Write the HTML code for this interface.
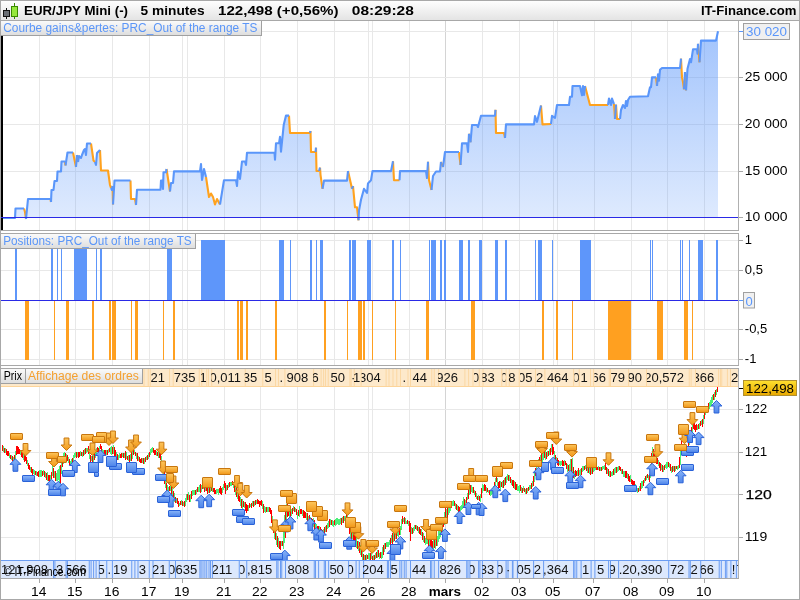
<!DOCTYPE html><html><head><meta charset="utf-8"><title>EUR/JPY Mini</title><style>
html,body{margin:0;padding:0;background:#fff;}
#root{position:relative;width:800px;height:600px;overflow:hidden;background:#fff;font-family:'Liberation Sans', Arial, sans-serif;}
svg{position:absolute;left:0;top:0;display:block;}
text{font-family:'Liberation Sans', Arial, sans-serif;}
</style></head><body><div id="root">
<svg width="800" height="600" viewBox="0 0 800 600">
<defs>
<linearGradient id="hdr" x1="0" y1="0" x2="0" y2="1"><stop offset="0" stop-color="#ffffff"/><stop offset="1" stop-color="#e4e4e4"/></linearGradient>
<linearGradient id="lbl" x1="0" y1="0" x2="0" y2="1"><stop offset="0" stop-color="#fafafa"/><stop offset="1" stop-color="#dedede"/></linearGradient>
<linearGradient id="eqfill" gradientUnits="userSpaceOnUse" x1="0" y1="31" x2="0" y2="217"><stop offset="0" stop-color="#5a96fa" stop-opacity="0.56"/><stop offset="1" stop-color="#5a96fa" stop-opacity="0.2"/></linearGradient>
<linearGradient id="og" x1="0" y1="0" x2="0" y2="1"><stop offset="0" stop-color="#fcc45a"/><stop offset="1" stop-color="#f29a1c"/></linearGradient>
<linearGradient id="bg" x1="0" y1="0" x2="0" y2="1"><stop offset="0" stop-color="#86b2f8"/><stop offset="1" stop-color="#4f86ea"/></linearGradient>
<linearGradient id="gold" x1="0" y1="0" x2="0" y2="1"><stop offset="0" stop-color="#ffe030"/><stop offset="1" stop-color="#e8a800"/></linearGradient>
<clipPath id="c1"><rect x="1" y="21" width="737" height="209"/></clipPath>
<clipPath id="c2"><rect x="1" y="234" width="737" height="131"/></clipPath>
<clipPath id="c3"><rect x="1" y="369" width="737" height="209"/></clipPath>
</defs>
<rect x="0" y="0" width="800" height="20" fill="url(#hdr)"/>
<rect x="0" y="20" width="800" height="1" fill="#a8a8a8"/>
<rect x="6" y="8" width="1" height="11" fill="#111"/><rect x="3.5" y="10.5" width="6" height="6" fill="#6a6e74" stroke="#111" stroke-width="1"/>
<rect x="14" y="3" width="1" height="16" fill="#3a8a00"/><rect x="11.5" y="6.5" width="6" height="10" fill="#96e83c" stroke="#3a8a00" stroke-width="1"/>
<text x="24" y="15" font-size="13.5" font-weight="bold" fill="#000" textLength="104" lengthAdjust="spacingAndGlyphs" text-anchor="start">EUR/JPY Mini (-)</text>
<text x="140.6" y="15" font-size="13.5" font-weight="bold" fill="#000" textLength="64" lengthAdjust="spacingAndGlyphs" text-anchor="start">5 minutes</text>
<text x="218" y="15" font-size="13.5" font-weight="bold" fill="#000" textLength="120.6" lengthAdjust="spacingAndGlyphs" text-anchor="start">122,498 (+0,56%)</text>
<text x="351.8" y="15" font-size="13.5" font-weight="bold" fill="#000" textLength="62" lengthAdjust="spacingAndGlyphs" text-anchor="start">08:29:28</text>
<text x="700.9" y="15" font-size="13.5" font-weight="bold" fill="#000" textLength="95.6" lengthAdjust="spacingAndGlyphs" text-anchor="start">IT-Finance.com</text>
<g clip-path="url(#c1)">
<rect x="39" y="21" width="1" height="209" fill="#e8e8e8"/>
<rect x="75" y="21" width="1" height="209" fill="#e8e8e8"/>
<rect x="112" y="21" width="1" height="209" fill="#e8e8e8"/>
<rect x="149" y="21" width="1" height="209" fill="#e8e8e8"/>
<rect x="182" y="21" width="1" height="209" fill="#e8e8e8"/>
<rect x="187" y="21" width="1" height="209" fill="#e8e8e8"/>
<rect x="224" y="21" width="1" height="209" fill="#e8e8e8"/>
<rect x="260" y="21" width="1" height="209" fill="#e8e8e8"/>
<rect x="297" y="21" width="1" height="209" fill="#e8e8e8"/>
<rect x="334" y="21" width="1" height="209" fill="#e8e8e8"/>
<rect x="368" y="21" width="1" height="209" fill="#e8e8e8"/>
<rect x="372" y="21" width="1" height="209" fill="#e8e8e8"/>
<rect x="409" y="21" width="1" height="209" fill="#e8e8e8"/>
<rect x="445" y="21" width="1" height="209" fill="#d4d4d4"/>
<rect x="482" y="21" width="1" height="209" fill="#e8e8e8"/>
<rect x="519" y="21" width="1" height="209" fill="#e8e8e8"/>
<rect x="553" y="21" width="1" height="209" fill="#e8e8e8"/>
<rect x="557" y="21" width="1" height="209" fill="#e8e8e8"/>
<rect x="594" y="21" width="1" height="209" fill="#e8e8e8"/>
<rect x="631" y="21" width="1" height="209" fill="#e8e8e8"/>
<rect x="667" y="21" width="1" height="209" fill="#e8e8e8"/>
<rect x="704" y="21" width="1" height="209" fill="#e8e8e8"/>
<rect x="1" y="31" width="737" height="1" fill="#e8e8e8"/>
<rect x="1" y="77" width="737" height="1" fill="#e8e8e8"/>
<rect x="1" y="124" width="737" height="1" fill="#e8e8e8"/>
<rect x="1" y="171" width="737" height="1" fill="#e8e8e8"/>
<polygon points="2,218 15,218 15.5,208.5 24,208.5 25,212 26,219 28,199 50.5,199 51,202 51.5,190 53.5,190 54.5,181 57,181 57.5,171.5 61,171.5 61.5,161.5 65,161.5 65.5,165.5 67.5,152.5 73,152.5 76,167 77,155 78,162 79,156 81,158 82,155 84,150 85,149 86,155 87,143.5 91,143.5 93.5,160.5 95,162 96,165 97,153 99,151 100,150 101,170.5 108,170.5 110,185 111,188 112,190 112.5,186 113,204.5 114.5,180.5 130.5,180.5 131,199 135,199 136,205 137,189.7 160.5,189.7 161,180.5 162,180.5 163,189 163.5,172.3 166,172.3 166.5,169 167,172 170,191.5 171,183 173,183 174,171.4 200,171.4 201,164 202,180 204,169 206,177 209,197 211,193.5 213,197 215,204.5 217,199 220,204.5 224,180.2 236,180.2 237,186 238,171.6 240,179 242,161.5 245,161.5 246,165 247,152.7 274.5,152.7 275,159.6 276,143.3 279,143.3 280,136.8 281,151.6 283.7,125 286,115.6 289,115.6 290,133 310,133 310.5,131 311,152 315.5,152 316,147.7 316.5,171 319,171 320,167.6 320.5,174.8 322.5,188.8 324,180.6 347,180.6 348,171 352,188.8 353,186 355,207.3 357,207.3 358.5,220.3 359,210.5 361,199.7 364,188.8 367,193 368,183.4 371,180.2 372.5,171.1 391,171.1 393,161.3 394,180.2 399.5,180.2 400,171.1 426,171.1 427,178 428,161.8 429,180 431.5,190 433,176 436,171.5 440,171.5 441,161.8 443,167 445,152 459,152 460.5,165 462,143.4 467,143.4 468,152 469,133.7 470.5,142.3 472,125 477,125 478,127 481,115.7 495,115.7 495.5,109.8 496,133 504,133 505,138 506,124.4 534,124.4 535,116 537,121.8 541,105.5 542.5,124.4 551,124 552,115.8 555,118 557,105 569,105 570,96.8 572,96.8 572.5,86 580,86 582,95.3 583,86 584,95 585,86 590,105 608,105 609,98.5 611,105 612,98.5 614,104 615,119 616,104.6 617,119 620,119 621,110 623,105 625,108 626,101 627,106 628,100 630,96.8 648,96.3 650,87.2 651,87.2 652,77.4 656,77.4 657,86 658,74.2 659,80.7 660,69.8 662,68 680,68 681,58.6 682,77.4 683,82 684,89.3 685,72 686,90.4 687.5,68.75 690,59 691,62.3 693,49.3 697,49.3 697.5,53.6 698,43.8 699.5,62.3 701,40.6 716,40.6 717,36 718,31.3 718,217 2,217" fill="url(#eqfill)"/>
<polyline points="24,208.5 25,212 26,219" fill="none" stroke="#ffa21e" stroke-width="2.1" stroke-linejoin="round" stroke-linecap="butt"/>
<polyline points="50.5,199 51,202" fill="none" stroke="#ffa21e" stroke-width="2.1" stroke-linejoin="round" stroke-linecap="butt"/>
<polyline points="65,161.5 65.5,165.5" fill="none" stroke="#ffa21e" stroke-width="2.1" stroke-linejoin="round" stroke-linecap="butt"/>
<polyline points="73,152.5 76,167" fill="none" stroke="#ffa21e" stroke-width="2.1" stroke-linejoin="round" stroke-linecap="butt"/>
<polyline points="77,155 78,162" fill="none" stroke="#ffa21e" stroke-width="2.1" stroke-linejoin="round" stroke-linecap="butt"/>
<polyline points="91,143.5 93.5,160.5 95,162" fill="none" stroke="#ffa21e" stroke-width="2.1" stroke-linejoin="round" stroke-linecap="butt"/>
<polyline points="100,150 101,170.5 108,170.5 110,185 111,188" fill="none" stroke="#ffa21e" stroke-width="2.1" stroke-linejoin="round" stroke-linecap="butt"/>
<polyline points="112.5,186 113,204.5" fill="none" stroke="#ffa21e" stroke-width="2.1" stroke-linejoin="round" stroke-linecap="butt"/>
<polyline points="130.5,180.5 131,199 135,199 136,205" fill="none" stroke="#ffa21e" stroke-width="2.1" stroke-linejoin="round" stroke-linecap="butt"/>
<polyline points="166.5,169 167,172 170,191.5" fill="none" stroke="#ffa21e" stroke-width="2.1" stroke-linejoin="round" stroke-linecap="butt"/>
<polyline points="206,177 209,197 211,193.5 213,197 215,204.5 217,199 220,204.5" fill="none" stroke="#ffa21e" stroke-width="2.1" stroke-linejoin="round" stroke-linecap="butt"/>
<polyline points="289,115.6 290,133 310,133" fill="none" stroke="#ffa21e" stroke-width="2.1" stroke-linejoin="round" stroke-linecap="butt"/>
<polyline points="310.5,131 311,152 315.5,152" fill="none" stroke="#ffa21e" stroke-width="2.1" stroke-linejoin="round" stroke-linecap="butt"/>
<polyline points="316,147.7 316.5,171 319,171" fill="none" stroke="#ffa21e" stroke-width="2.1" stroke-linejoin="round" stroke-linecap="butt"/>
<polyline points="320,167.6 320.5,174.8 322.5,188.8" fill="none" stroke="#ffa21e" stroke-width="2.1" stroke-linejoin="round" stroke-linecap="butt"/>
<polyline points="348,171 352,188.8" fill="none" stroke="#ffa21e" stroke-width="2.1" stroke-linejoin="round" stroke-linecap="butt"/>
<polyline points="353,186 355,207.3 357,207.3 358.5,220.3" fill="none" stroke="#ffa21e" stroke-width="2.1" stroke-linejoin="round" stroke-linecap="butt"/>
<polyline points="393,161.3 394,180.2 399.5,180.2" fill="none" stroke="#ffa21e" stroke-width="2.1" stroke-linejoin="round" stroke-linecap="butt"/>
<polyline points="428,161.8 429,180 431.5,190" fill="none" stroke="#ffa21e" stroke-width="2.1" stroke-linejoin="round" stroke-linecap="butt"/>
<polyline points="441,161.8 443,167" fill="none" stroke="#ffa21e" stroke-width="2.1" stroke-linejoin="round" stroke-linecap="butt"/>
<polyline points="459,152 460.5,165" fill="none" stroke="#ffa21e" stroke-width="2.1" stroke-linejoin="round" stroke-linecap="butt"/>
<polyline points="469,133.7 470.5,142.3" fill="none" stroke="#ffa21e" stroke-width="2.1" stroke-linejoin="round" stroke-linecap="butt"/>
<polyline points="495.5,109.8 496,133 504,133 505,138" fill="none" stroke="#ffa21e" stroke-width="2.1" stroke-linejoin="round" stroke-linecap="butt"/>
<polyline points="541,105.5 542.5,124.4 551,124" fill="none" stroke="#ffa21e" stroke-width="2.1" stroke-linejoin="round" stroke-linecap="butt"/>
<polyline points="585,86 590,105 608,105" fill="none" stroke="#ffa21e" stroke-width="2.1" stroke-linejoin="round" stroke-linecap="butt"/>
<polyline points="614,104 615,119" fill="none" stroke="#ffa21e" stroke-width="2.1" stroke-linejoin="round" stroke-linecap="butt"/>
<polyline points="616,104.6 617,119 620,119" fill="none" stroke="#ffa21e" stroke-width="2.1" stroke-linejoin="round" stroke-linecap="butt"/>
<polyline points="656,77.4 657,86" fill="none" stroke="#ffa21e" stroke-width="2.1" stroke-linejoin="round" stroke-linecap="butt"/>
<polyline points="681,58.6 682,77.4 683,82 684,89.3" fill="none" stroke="#ffa21e" stroke-width="2.1" stroke-linejoin="round" stroke-linecap="butt"/>
<polyline points="685,72 686,90.4" fill="none" stroke="#ffa21e" stroke-width="2.1" stroke-linejoin="round" stroke-linecap="butt"/>
<polyline points="698,43.8 699.5,62.3" fill="none" stroke="#ffa21e" stroke-width="2.1" stroke-linejoin="round" stroke-linecap="butt"/>
<polyline points="2,218 15,218 15.5,208.5 24,208.5" fill="none" stroke="#5a96fa" stroke-width="2.1" stroke-linejoin="round" stroke-linecap="butt"/>
<polyline points="26,219 28,199 50.5,199" fill="none" stroke="#5a96fa" stroke-width="2.1" stroke-linejoin="round" stroke-linecap="butt"/>
<polyline points="51,202 51.5,190 53.5,190 54.5,181 57,181 57.5,171.5 61,171.5 61.5,161.5 65,161.5" fill="none" stroke="#5a96fa" stroke-width="2.1" stroke-linejoin="round" stroke-linecap="butt"/>
<polyline points="65.5,165.5 67.5,152.5 73,152.5" fill="none" stroke="#5a96fa" stroke-width="2.1" stroke-linejoin="round" stroke-linecap="butt"/>
<polyline points="76,167 77,155" fill="none" stroke="#5a96fa" stroke-width="2.1" stroke-linejoin="round" stroke-linecap="butt"/>
<polyline points="78,162 79,156 81,158 82,155 84,150 85,149 86,155 87,143.5 91,143.5" fill="none" stroke="#5a96fa" stroke-width="2.1" stroke-linejoin="round" stroke-linecap="butt"/>
<polyline points="95,162 96,165 97,153 99,151 100,150" fill="none" stroke="#5a96fa" stroke-width="2.1" stroke-linejoin="round" stroke-linecap="butt"/>
<polyline points="111,188 112,190 112.5,186" fill="none" stroke="#5a96fa" stroke-width="2.1" stroke-linejoin="round" stroke-linecap="butt"/>
<polyline points="113,204.5 114.5,180.5 130.5,180.5" fill="none" stroke="#5a96fa" stroke-width="2.1" stroke-linejoin="round" stroke-linecap="butt"/>
<polyline points="136,205 137,189.7 160.5,189.7 161,180.5 162,180.5 163,189 163.5,172.3 166,172.3 166.5,169" fill="none" stroke="#5a96fa" stroke-width="2.1" stroke-linejoin="round" stroke-linecap="butt"/>
<polyline points="170,191.5 171,183 173,183 174,171.4 200,171.4 201,164 202,180 204,169 206,177" fill="none" stroke="#5a96fa" stroke-width="2.1" stroke-linejoin="round" stroke-linecap="butt"/>
<polyline points="220,204.5 224,180.2 236,180.2 237,186 238,171.6 240,179 242,161.5 245,161.5 246,165 247,152.7 274.5,152.7 275,159.6 276,143.3 279,143.3 280,136.8 281,151.6 283.7,125 286,115.6 289,115.6" fill="none" stroke="#5a96fa" stroke-width="2.1" stroke-linejoin="round" stroke-linecap="butt"/>
<polyline points="310,133 310.5,131" fill="none" stroke="#5a96fa" stroke-width="2.1" stroke-linejoin="round" stroke-linecap="butt"/>
<polyline points="315.5,152 316,147.7" fill="none" stroke="#5a96fa" stroke-width="2.1" stroke-linejoin="round" stroke-linecap="butt"/>
<polyline points="319,171 320,167.6" fill="none" stroke="#5a96fa" stroke-width="2.1" stroke-linejoin="round" stroke-linecap="butt"/>
<polyline points="322.5,188.8 324,180.6 347,180.6 348,171" fill="none" stroke="#5a96fa" stroke-width="2.1" stroke-linejoin="round" stroke-linecap="butt"/>
<polyline points="352,188.8 353,186" fill="none" stroke="#5a96fa" stroke-width="2.1" stroke-linejoin="round" stroke-linecap="butt"/>
<polyline points="358.5,220.3 359,210.5 361,199.7 364,188.8 367,193 368,183.4 371,180.2 372.5,171.1 391,171.1 393,161.3" fill="none" stroke="#5a96fa" stroke-width="2.1" stroke-linejoin="round" stroke-linecap="butt"/>
<polyline points="399.5,180.2 400,171.1 426,171.1 427,178 428,161.8" fill="none" stroke="#5a96fa" stroke-width="2.1" stroke-linejoin="round" stroke-linecap="butt"/>
<polyline points="431.5,190 433,176 436,171.5 440,171.5 441,161.8" fill="none" stroke="#5a96fa" stroke-width="2.1" stroke-linejoin="round" stroke-linecap="butt"/>
<polyline points="443,167 445,152 459,152" fill="none" stroke="#5a96fa" stroke-width="2.1" stroke-linejoin="round" stroke-linecap="butt"/>
<polyline points="460.5,165 462,143.4 467,143.4 468,152 469,133.7" fill="none" stroke="#5a96fa" stroke-width="2.1" stroke-linejoin="round" stroke-linecap="butt"/>
<polyline points="470.5,142.3 472,125 477,125 478,127 481,115.7 495,115.7 495.5,109.8" fill="none" stroke="#5a96fa" stroke-width="2.1" stroke-linejoin="round" stroke-linecap="butt"/>
<polyline points="505,138 506,124.4 534,124.4 535,116 537,121.8 541,105.5" fill="none" stroke="#5a96fa" stroke-width="2.1" stroke-linejoin="round" stroke-linecap="butt"/>
<polyline points="551,124 552,115.8 555,118 557,105 569,105 570,96.8 572,96.8 572.5,86 580,86 582,95.3 583,86 584,95 585,86" fill="none" stroke="#5a96fa" stroke-width="2.1" stroke-linejoin="round" stroke-linecap="butt"/>
<polyline points="608,105 609,98.5 611,105 612,98.5 614,104" fill="none" stroke="#5a96fa" stroke-width="2.1" stroke-linejoin="round" stroke-linecap="butt"/>
<polyline points="615,119 616,104.6" fill="none" stroke="#5a96fa" stroke-width="2.1" stroke-linejoin="round" stroke-linecap="butt"/>
<polyline points="620,119 621,110 623,105 625,108 626,101 627,106 628,100 630,96.8 648,96.3 650,87.2 651,87.2 652,77.4 656,77.4" fill="none" stroke="#5a96fa" stroke-width="2.1" stroke-linejoin="round" stroke-linecap="butt"/>
<polyline points="657,86 658,74.2 659,80.7 660,69.8 662,68 680,68 681,58.6" fill="none" stroke="#5a96fa" stroke-width="2.1" stroke-linejoin="round" stroke-linecap="butt"/>
<polyline points="684,89.3 685,72" fill="none" stroke="#5a96fa" stroke-width="2.1" stroke-linejoin="round" stroke-linecap="butt"/>
<polyline points="686,90.4 687.5,68.75 690,59 691,62.3 693,49.3 697,49.3 697.5,53.6 698,43.8" fill="none" stroke="#5a96fa" stroke-width="2.1" stroke-linejoin="round" stroke-linecap="butt"/>
<polyline points="699.5,62.3 701,40.6 716,40.6 717,36 718,31.3" fill="none" stroke="#5a96fa" stroke-width="2.1" stroke-linejoin="round" stroke-linecap="butt"/>
<rect x="1" y="21" width="2" height="209" fill="#000"/>
<rect x="1" y="217" width="737" height="1" fill="#2a2ae6"/>
</g>
<rect x="738" y="20" width="1" height="211" fill="#b0b0b0"/>
<rect x="0" y="230" width="739" height="1" fill="#a8a8a8"/>
<rect x="0" y="20" width="739" height="1" fill="#a8a8a8"/>
<rect x="1" y="21" width="260" height="14" fill="url(#lbl)"/>
<rect x="261" y="21" width="1" height="15" fill="#a0a0a0"/><rect x="1" y="35" width="261" height="1" fill="#a0a0a0"/>
<text x="3.2" y="32" font-size="12.5" font-weight="normal" fill="#5b96f8" textLength="254.3" lengthAdjust="spacingAndGlyphs" text-anchor="start">Courbe gains&amp;pertes: PRC_Out of the range TS</text>
<g clip-path="url(#c2)">
<rect x="39" y="234" width="1" height="131" fill="#e8e8e8"/>
<rect x="75" y="234" width="1" height="131" fill="#e8e8e8"/>
<rect x="112" y="234" width="1" height="131" fill="#e8e8e8"/>
<rect x="149" y="234" width="1" height="131" fill="#e8e8e8"/>
<rect x="182" y="234" width="1" height="131" fill="#e8e8e8"/>
<rect x="187" y="234" width="1" height="131" fill="#e8e8e8"/>
<rect x="224" y="234" width="1" height="131" fill="#e8e8e8"/>
<rect x="260" y="234" width="1" height="131" fill="#e8e8e8"/>
<rect x="297" y="234" width="1" height="131" fill="#e8e8e8"/>
<rect x="334" y="234" width="1" height="131" fill="#e8e8e8"/>
<rect x="368" y="234" width="1" height="131" fill="#e8e8e8"/>
<rect x="372" y="234" width="1" height="131" fill="#e8e8e8"/>
<rect x="409" y="234" width="1" height="131" fill="#e8e8e8"/>
<rect x="445" y="234" width="1" height="131" fill="#d4d4d4"/>
<rect x="482" y="234" width="1" height="131" fill="#e8e8e8"/>
<rect x="519" y="234" width="1" height="131" fill="#e8e8e8"/>
<rect x="553" y="234" width="1" height="131" fill="#e8e8e8"/>
<rect x="557" y="234" width="1" height="131" fill="#e8e8e8"/>
<rect x="594" y="234" width="1" height="131" fill="#e8e8e8"/>
<rect x="631" y="234" width="1" height="131" fill="#e8e8e8"/>
<rect x="667" y="234" width="1" height="131" fill="#e8e8e8"/>
<rect x="704" y="234" width="1" height="131" fill="#e8e8e8"/>
<rect x="1" y="240" width="737" height="1" fill="#e8e8e8"/>
<rect x="1" y="270" width="737" height="1" fill="#e8e8e8"/>
<rect x="1" y="329" width="737" height="1" fill="#e8e8e8"/>
<rect x="1" y="359" width="737" height="1" fill="#e8e8e8"/>
<rect x="15" y="240" width="2" height="60" fill="#5e96fa"/>
<rect x="51" y="240" width="2" height="60" fill="#5e96fa"/>
<rect x="57" y="240" width="1" height="60" fill="#5e96fa"/>
<rect x="61" y="240" width="1" height="60" fill="#5e96fa"/>
<rect x="74" y="240" width="13" height="60" fill="#5e96fa"/>
<rect x="96" y="240" width="1" height="60" fill="#5e96fa"/>
<rect x="100" y="240" width="2" height="60" fill="#5e96fa"/>
<rect x="167" y="240" width="5" height="60" fill="#5e96fa"/>
<rect x="201" y="240" width="24" height="60" fill="#5e96fa"/>
<rect x="279" y="240" width="5" height="60" fill="#5e96fa"/>
<rect x="290" y="240" width="1" height="60" fill="#5e96fa"/>
<rect x="310" y="240" width="2" height="60" fill="#5e96fa"/>
<rect x="316" y="240" width="1" height="60" fill="#5e96fa"/>
<rect x="320" y="240" width="3" height="60" fill="#5e96fa"/>
<rect x="349" y="240" width="2" height="60" fill="#5e96fa"/>
<rect x="352" y="240" width="4" height="60" fill="#5e96fa"/>
<rect x="367" y="240" width="4" height="60" fill="#5e96fa"/>
<rect x="392" y="240" width="2" height="60" fill="#5e96fa"/>
<rect x="400" y="240" width="1" height="60" fill="#5e96fa"/>
<rect x="429" y="240" width="1" height="60" fill="#5e96fa"/>
<rect x="431" y="240" width="5" height="60" fill="#5e96fa"/>
<rect x="440" y="240" width="2" height="60" fill="#5e96fa"/>
<rect x="444" y="240" width="2" height="60" fill="#5e96fa"/>
<rect x="459" y="240" width="4" height="60" fill="#5e96fa"/>
<rect x="468" y="240" width="2" height="60" fill="#5e96fa"/>
<rect x="479" y="240" width="3" height="60" fill="#5e96fa"/>
<rect x="495" y="240" width="3" height="60" fill="#5e96fa"/>
<rect x="505" y="240" width="2" height="60" fill="#5e96fa"/>
<rect x="535" y="240" width="1" height="60" fill="#5e96fa"/>
<rect x="538" y="240" width="4" height="60" fill="#5e96fa"/>
<rect x="552" y="240" width="1" height="60" fill="#5e96fa"/>
<rect x="580" y="240" width="11" height="60" fill="#5e96fa"/>
<rect x="650" y="240" width="1" height="60" fill="#5e96fa"/>
<rect x="652" y="240" width="1" height="60" fill="#5e96fa"/>
<rect x="680" y="240" width="1" height="60" fill="#5e96fa"/>
<rect x="682" y="240" width="1" height="60" fill="#5e96fa"/>
<rect x="689" y="240" width="1" height="60" fill="#5e96fa"/>
<rect x="698" y="240" width="5" height="60" fill="#5e96fa"/>
<rect x="716" y="240" width="2" height="60" fill="#5e96fa"/>
<rect x="25" y="301" width="4" height="59" fill="#ffa020"/>
<rect x="54" y="301" width="1" height="59" fill="#ffa020"/>
<rect x="66" y="301" width="3" height="59" fill="#ffa020"/>
<rect x="92" y="301" width="2" height="59" fill="#ffa020"/>
<rect x="109" y="301" width="2" height="59" fill="#ffa020"/>
<rect x="112" y="301" width="4" height="59" fill="#ffa020"/>
<rect x="131" y="301" width="1" height="59" fill="#ffa020"/>
<rect x="135" y="301" width="3" height="59" fill="#ffa020"/>
<rect x="163" y="301" width="1" height="59" fill="#ffa020"/>
<rect x="173" y="301" width="2" height="59" fill="#ffa020"/>
<rect x="237" y="301" width="2" height="59" fill="#ffa020"/>
<rect x="240" y="301" width="3" height="59" fill="#ffa020"/>
<rect x="246" y="301" width="2" height="59" fill="#ffa020"/>
<rect x="275" y="301" width="2" height="59" fill="#ffa020"/>
<rect x="324" y="301" width="2" height="59" fill="#ffa020"/>
<rect x="347" y="301" width="1" height="59" fill="#ffa020"/>
<rect x="358" y="301" width="4" height="59" fill="#ffa020"/>
<rect x="363" y="301" width="2" height="59" fill="#ffa020"/>
<rect x="372" y="301" width="1" height="59" fill="#ffa020"/>
<rect x="395" y="301" width="1" height="59" fill="#ffa020"/>
<rect x="426" y="301" width="3" height="59" fill="#ffa020"/>
<rect x="471" y="301" width="4" height="59" fill="#ffa020"/>
<rect x="542" y="301" width="2" height="59" fill="#ffa020"/>
<rect x="556" y="301" width="2" height="59" fill="#ffa020"/>
<rect x="572" y="301" width="1" height="59" fill="#ffa020"/>
<rect x="608" y="301" width="23" height="59" fill="#ffa020"/>
<rect x="657" y="301" width="6" height="59" fill="#ffa020"/>
<rect x="684" y="301" width="4" height="59" fill="#ffa020"/>
<rect x="692" y="301" width="1" height="59" fill="#ffa020"/>
<rect x="1" y="300" width="737" height="1" fill="#2a2ae6"/>
</g>
<rect x="738" y="233" width="1" height="133" fill="#b0b0b0"/>
<rect x="0" y="365" width="739" height="1" fill="#a8a8a8"/>
<rect x="0" y="233" width="739" height="1" fill="#a8a8a8"/>
<rect x="1" y="234" width="194" height="14" fill="url(#lbl)"/>
<rect x="195" y="234" width="1" height="15" fill="#a0a0a0"/><rect x="1" y="248" width="195" height="1" fill="#a0a0a0"/>
<text x="3.2" y="245" font-size="12.5" font-weight="normal" fill="#5b96f8" textLength="188.5" lengthAdjust="spacingAndGlyphs" text-anchor="start">Positions: PRC_Out of the range TS</text>
<g clip-path="url(#c3)">
<rect x="39" y="369" width="1" height="209" fill="#e8e8e8"/>
<rect x="75" y="369" width="1" height="209" fill="#e8e8e8"/>
<rect x="112" y="369" width="1" height="209" fill="#e8e8e8"/>
<rect x="149" y="369" width="1" height="209" fill="#e8e8e8"/>
<rect x="182" y="369" width="1" height="209" fill="#e8e8e8"/>
<rect x="187" y="369" width="1" height="209" fill="#e8e8e8"/>
<rect x="224" y="369" width="1" height="209" fill="#e8e8e8"/>
<rect x="260" y="369" width="1" height="209" fill="#e8e8e8"/>
<rect x="297" y="369" width="1" height="209" fill="#e8e8e8"/>
<rect x="334" y="369" width="1" height="209" fill="#e8e8e8"/>
<rect x="368" y="369" width="1" height="209" fill="#e8e8e8"/>
<rect x="372" y="369" width="1" height="209" fill="#e8e8e8"/>
<rect x="409" y="369" width="1" height="209" fill="#e8e8e8"/>
<rect x="445" y="369" width="1" height="209" fill="#d4d4d4"/>
<rect x="482" y="369" width="1" height="209" fill="#e8e8e8"/>
<rect x="519" y="369" width="1" height="209" fill="#e8e8e8"/>
<rect x="553" y="369" width="1" height="209" fill="#e8e8e8"/>
<rect x="557" y="369" width="1" height="209" fill="#e8e8e8"/>
<rect x="594" y="369" width="1" height="209" fill="#e8e8e8"/>
<rect x="631" y="369" width="1" height="209" fill="#e8e8e8"/>
<rect x="667" y="369" width="1" height="209" fill="#e8e8e8"/>
<rect x="704" y="369" width="1" height="209" fill="#e8e8e8"/>
<rect x="1" y="409" width="737" height="1" fill="#e8e8e8"/>
<rect x="1" y="452" width="737" height="1" fill="#e8e8e8"/>
<rect x="1" y="494" width="737" height="1" fill="#e8e8e8"/>
<rect x="1" y="537" width="737" height="1" fill="#e8e8e8"/>
<rect x="2" y="445" width="1" height="6" fill="#ff0000"/><rect x="3" y="446" width="1" height="6" fill="#4cf078"/><rect x="4" y="448" width="1" height="5" fill="#ff0000"/><rect x="5" y="448" width="1" height="5" fill="#4cf078"/><rect x="6" y="449" width="1" height="6" fill="#ff0000"/><rect x="7" y="451" width="1" height="5" fill="#ff0000"/><rect x="8" y="451" width="1" height="5" fill="#ff0000"/><rect x="9" y="453" width="1" height="5" fill="#4cf078"/><rect x="10" y="455" width="1" height="4" fill="#ff0000"/><rect x="11" y="455" width="1" height="5" fill="#4cf078"/><rect x="12" y="456" width="1" height="5" fill="#ff0000"/><rect x="13" y="457" width="1" height="5" fill="#4cf078"/><rect x="14" y="455" width="1" height="5" fill="#ff0000"/><rect x="15" y="451" width="1" height="8" fill="#4cf078"/><rect x="16" y="446" width="1" height="9" fill="#ff0000"/><rect x="17" y="446" width="1" height="8" fill="#ff0000"/><rect x="18" y="447" width="1" height="7" fill="#ff0000"/><rect x="19" y="449" width="1" height="5" fill="#ff0000"/><rect x="20" y="450" width="1" height="5" fill="#4cf078"/><rect x="21" y="451" width="1" height="6" fill="#ff0000"/><rect x="22" y="452" width="1" height="6" fill="#ff0000"/><rect x="23" y="454" width="1" height="6" fill="#4cf078"/><rect x="24" y="454" width="1" height="8" fill="#ff0000"/><rect x="25" y="456" width="1" height="5" fill="#ff0000"/><rect x="26" y="457" width="1" height="7" fill="#ff0000"/><rect x="27" y="460" width="1" height="6" fill="#4cf078"/><rect x="28" y="463" width="1" height="6" fill="#ff0000"/><rect x="29" y="465" width="1" height="5" fill="#ff0000"/><rect x="30" y="467" width="1" height="5" fill="#4cf078"/><rect x="31" y="467" width="1" height="6" fill="#ff0000"/><rect x="32" y="469" width="1" height="6" fill="#ff0000"/><rect x="33" y="469" width="1" height="5" fill="#4cf078"/><rect x="34" y="470" width="1" height="5" fill="#4cf078"/><rect x="35" y="471" width="1" height="4" fill="#ff0000"/><rect x="36" y="471" width="1" height="5" fill="#4cf078"/><rect x="37" y="472" width="1" height="4" fill="#ff0000"/><rect x="38" y="471" width="1" height="6" fill="#ff0000"/><rect x="39" y="470" width="1" height="7" fill="#4cf078"/><rect x="40" y="470" width="1" height="7" fill="#4cf078"/><rect x="41" y="470" width="1" height="7" fill="#4cf078"/><rect x="42" y="471" width="1" height="5" fill="#ff0000"/><rect x="43" y="470" width="1" height="5" fill="#4cf078"/><rect x="44" y="471" width="1" height="6" fill="#ff0000"/><rect x="45" y="472" width="1" height="6" fill="#4cf078"/><rect x="46" y="473" width="1" height="7" fill="#ff0000"/><rect x="47" y="472" width="1" height="9" fill="#4cf078"/><rect x="48" y="475" width="1" height="6" fill="#ff0000"/><rect x="49" y="475" width="1" height="7" fill="#ff0000"/><rect x="50" y="475" width="1" height="6" fill="#4cf078"/><rect x="51" y="472" width="1" height="7" fill="#ff0000"/><rect x="52" y="466" width="1" height="10" fill="#4cf078"/><rect x="53" y="468" width="1" height="10" fill="#ff0000"/><rect x="54" y="471" width="1" height="7" fill="#4cf078"/><rect x="55" y="471" width="1" height="10" fill="#ff0000"/><rect x="56" y="473" width="1" height="8" fill="#4cf078"/><rect x="57" y="470" width="1" height="11" fill="#4cf078"/><rect x="58" y="469" width="1" height="11" fill="#4cf078"/><rect x="59" y="466" width="1" height="17" fill="#4cf078"/><rect x="60" y="465" width="1" height="18" fill="#ff0000"/><rect x="61" y="460" width="1" height="14" fill="#4cf078"/><rect x="62" y="456" width="1" height="11" fill="#ff0000"/><rect x="63" y="453" width="1" height="11" fill="#4cf078"/><rect x="64" y="452" width="1" height="6" fill="#4cf078"/><rect x="65" y="453" width="1" height="5" fill="#ff0000"/><rect x="66" y="454" width="1" height="4" fill="#4cf078"/><rect x="67" y="455" width="1" height="6" fill="#ff0000"/><rect x="68" y="457" width="1" height="6" fill="#4cf078"/><rect x="69" y="459" width="1" height="6" fill="#ff0000"/><rect x="70" y="461" width="1" height="5" fill="#4cf078"/><rect x="71" y="459" width="1" height="5" fill="#4cf078"/><rect x="72" y="458" width="1" height="5" fill="#ff0000"/><rect x="73" y="455" width="1" height="6" fill="#4cf078"/><rect x="74" y="453" width="1" height="5" fill="#4cf078"/><rect x="75" y="452" width="1" height="5" fill="#4cf078"/><rect x="76" y="452" width="1" height="6" fill="#ff0000"/><rect x="77" y="452" width="1" height="5" fill="#4cf078"/><rect x="78" y="452" width="1" height="6" fill="#ff0000"/><rect x="79" y="452" width="1" height="5" fill="#ff0000"/><rect x="80" y="451" width="1" height="5" fill="#4cf078"/><rect x="81" y="452" width="1" height="4" fill="#ff0000"/><rect x="82" y="452" width="1" height="5" fill="#4cf078"/><rect x="83" y="450" width="1" height="6" fill="#ff0000"/><rect x="84" y="449" width="1" height="6" fill="#4cf078"/><rect x="85" y="448" width="1" height="6" fill="#ff0000"/><rect x="86" y="448" width="1" height="5" fill="#4cf078"/><rect x="87" y="448" width="1" height="4" fill="#4cf078"/><rect x="88" y="446" width="1" height="8" fill="#ff0000"/><rect x="89" y="449" width="1" height="10" fill="#4cf078"/><rect x="90" y="455" width="1" height="7" fill="#ff0000"/><rect x="91" y="456" width="1" height="5" fill="#4cf078"/><rect x="92" y="456" width="1" height="6" fill="#ff0000"/><rect x="93" y="454" width="1" height="8" fill="#4cf078"/><rect x="94" y="453" width="1" height="7" fill="#ff0000"/><rect x="95" y="451" width="1" height="7" fill="#4cf078"/><rect x="96" y="448" width="1" height="7" fill="#4cf078"/><rect x="97" y="447" width="1" height="5" fill="#ff0000"/><rect x="98" y="448" width="1" height="6" fill="#ff0000"/><rect x="99" y="446" width="1" height="5" fill="#4cf078"/><rect x="100" y="444" width="1" height="5" fill="#ff0000"/><rect x="101" y="446" width="1" height="6" fill="#ff0000"/><rect x="102" y="449" width="1" height="4" fill="#4cf078"/><rect x="103" y="450" width="1" height="5" fill="#4cf078"/><rect x="104" y="450" width="1" height="5" fill="#ff0000"/><rect x="105" y="450" width="1" height="5" fill="#ff0000"/><rect x="106" y="450" width="1" height="5" fill="#4cf078"/><rect x="107" y="450" width="1" height="5" fill="#ff0000"/><rect x="108" y="449" width="1" height="4" fill="#4cf078"/><rect x="109" y="448" width="1" height="4" fill="#ff0000"/><rect x="110" y="447" width="1" height="7" fill="#4cf078"/><rect x="111" y="446" width="1" height="9" fill="#4cf078"/><rect x="112" y="447" width="1" height="7" fill="#ff0000"/><rect x="113" y="445" width="1" height="9" fill="#4cf078"/><rect x="114" y="447" width="1" height="12" fill="#ff0000"/><rect x="115" y="450" width="1" height="8" fill="#ff0000"/><rect x="116" y="452" width="1" height="8" fill="#4cf078"/><rect x="117" y="454" width="1" height="6" fill="#ff0000"/><rect x="118" y="455" width="1" height="5" fill="#4cf078"/><rect x="119" y="453" width="1" height="5" fill="#4cf078"/><rect x="120" y="454" width="1" height="4" fill="#ff0000"/><rect x="121" y="453" width="1" height="5" fill="#ff0000"/><rect x="122" y="453" width="1" height="4" fill="#4cf078"/><rect x="123" y="453" width="1" height="5" fill="#ff0000"/><rect x="124" y="453" width="1" height="5" fill="#4cf078"/><rect x="125" y="451" width="1" height="9" fill="#ff0000"/><rect x="126" y="452" width="1" height="7" fill="#4cf078"/><rect x="127" y="456" width="1" height="4" fill="#ff0000"/><rect x="128" y="455" width="1" height="6" fill="#4cf078"/><rect x="129" y="455" width="1" height="7" fill="#ff0000"/><rect x="130" y="454" width="1" height="7" fill="#4cf078"/><rect x="131" y="452" width="1" height="9" fill="#ff0000"/><rect x="132" y="451" width="1" height="8" fill="#4cf078"/><rect x="133" y="449" width="1" height="6" fill="#ff0000"/><rect x="134" y="450" width="1" height="4" fill="#4cf078"/><rect x="135" y="452" width="1" height="4" fill="#ff0000"/><rect x="136" y="453" width="1" height="6" fill="#4cf078"/><rect x="137" y="453" width="1" height="8" fill="#ff0000"/><rect x="138" y="456" width="1" height="5" fill="#4cf078"/><rect x="139" y="457" width="1" height="5" fill="#ff0000"/><rect x="140" y="459" width="1" height="4" fill="#ff0000"/><rect x="141" y="458" width="1" height="5" fill="#ff0000"/><rect x="142" y="458" width="1" height="5" fill="#4cf078"/><rect x="143" y="458" width="1" height="6" fill="#ff0000"/><rect x="144" y="458" width="1" height="6" fill="#4cf078"/><rect x="145" y="457" width="1" height="5" fill="#ff0000"/><rect x="146" y="456" width="1" height="4" fill="#4cf078"/><rect x="147" y="455" width="1" height="5" fill="#ff0000"/><rect x="148" y="453" width="1" height="6" fill="#4cf078"/><rect x="149" y="452" width="1" height="5" fill="#ff0000"/><rect x="150" y="449" width="1" height="6" fill="#4cf078"/><rect x="151" y="448" width="1" height="5" fill="#4cf078"/><rect x="152" y="447" width="1" height="5" fill="#4cf078"/><rect x="153" y="448" width="1" height="5" fill="#ff0000"/><rect x="154" y="450" width="1" height="5" fill="#ff0000"/><rect x="155" y="450" width="1" height="5" fill="#ff0000"/><rect x="156" y="451" width="1" height="5" fill="#4cf078"/><rect x="157" y="452" width="1" height="4" fill="#ff0000"/><rect x="158" y="452" width="1" height="6" fill="#4cf078"/><rect x="159" y="452" width="1" height="6" fill="#ff0000"/><rect x="160" y="454" width="1" height="6" fill="#ff0000"/><rect x="161" y="456" width="1" height="10" fill="#4cf078"/><rect x="162" y="461" width="1" height="11" fill="#ff0000"/><rect x="163" y="467" width="1" height="10" fill="#4cf078"/><rect x="164" y="470" width="1" height="14" fill="#ff0000"/><rect x="165" y="475" width="1" height="13" fill="#4cf078"/><rect x="166" y="483" width="1" height="9" fill="#ff0000"/><rect x="167" y="485" width="1" height="5" fill="#4cf078"/><rect x="168" y="487" width="1" height="4" fill="#4cf078"/><rect x="169" y="486" width="1" height="5" fill="#ff0000"/><rect x="170" y="486" width="1" height="5" fill="#4cf078"/><rect x="171" y="486" width="1" height="11" fill="#ff0000"/><rect x="172" y="488" width="1" height="10" fill="#4cf078"/><rect x="173" y="491" width="1" height="9" fill="#ff0000"/><rect x="174" y="493" width="1" height="9" fill="#4cf078"/><rect x="175" y="497" width="1" height="6" fill="#ff0000"/><rect x="176" y="498" width="1" height="5" fill="#4cf078"/><rect x="177" y="498" width="1" height="6" fill="#ff0000"/><rect x="178" y="501" width="1" height="6" fill="#ff0000"/><rect x="179" y="503" width="1" height="3" fill="#4cf078"/><rect x="180" y="501" width="1" height="4" fill="#ff0000"/><rect x="181" y="500" width="1" height="5" fill="#4cf078"/><rect x="182" y="501" width="1" height="5" fill="#ff0000"/><rect x="183" y="502" width="1" height="4" fill="#4cf078"/><rect x="184" y="501" width="1" height="6" fill="#ff0000"/><rect x="185" y="498" width="1" height="8" fill="#4cf078"/><rect x="186" y="494" width="1" height="8" fill="#4cf078"/><rect x="187" y="494" width="1" height="6" fill="#ff0000"/><rect x="188" y="492" width="1" height="8" fill="#4cf078"/><rect x="189" y="495" width="1" height="7" fill="#ff0000"/><rect x="190" y="494" width="1" height="8" fill="#4cf078"/><rect x="191" y="491" width="1" height="8" fill="#ff0000"/><rect x="192" y="490" width="1" height="6" fill="#4cf078"/><rect x="193" y="490" width="1" height="5" fill="#4cf078"/><rect x="194" y="490" width="1" height="5" fill="#4cf078"/><rect x="195" y="490" width="1" height="5" fill="#ff0000"/><rect x="196" y="489" width="1" height="5" fill="#4cf078"/><rect x="197" y="487" width="1" height="5" fill="#ff0000"/><rect x="198" y="487" width="1" height="5" fill="#4cf078"/><rect x="199" y="485" width="1" height="7" fill="#4cf078"/><rect x="200" y="484" width="1" height="9" fill="#ff0000"/><rect x="201" y="485" width="1" height="7" fill="#4cf078"/><rect x="202" y="485" width="1" height="4" fill="#ff0000"/><rect x="203" y="481" width="1" height="8" fill="#4cf078"/><rect x="204" y="486" width="1" height="6" fill="#ff0000"/><rect x="205" y="488" width="1" height="3" fill="#4cf078"/><rect x="206" y="487" width="1" height="4" fill="#ff0000"/><rect x="207" y="488" width="1" height="6" fill="#ff0000"/><rect x="208" y="488" width="1" height="5" fill="#4cf078"/><rect x="209" y="488" width="1" height="5" fill="#ff0000"/><rect x="210" y="488" width="1" height="4" fill="#4cf078"/><rect x="211" y="487" width="1" height="4" fill="#ff0000"/><rect x="212" y="487" width="1" height="5" fill="#4cf078"/><rect x="213" y="488" width="1" height="4" fill="#ff0000"/><rect x="214" y="488" width="1" height="6" fill="#ff0000"/><rect x="215" y="490" width="1" height="4" fill="#ff0000"/><rect x="216" y="489" width="1" height="5" fill="#4cf078"/><rect x="217" y="489" width="1" height="4" fill="#4cf078"/><rect x="218" y="489" width="1" height="6" fill="#4cf078"/><rect x="219" y="488" width="1" height="5" fill="#ff0000"/><rect x="220" y="486" width="1" height="8" fill="#ff0000"/><rect x="221" y="488" width="1" height="7" fill="#ff0000"/><rect x="222" y="487" width="1" height="6" fill="#4cf078"/><rect x="223" y="484" width="1" height="6" fill="#4cf078"/><rect x="224" y="481" width="1" height="7" fill="#ff0000"/><rect x="225" y="483" width="1" height="11" fill="#ff0000"/><rect x="226" y="485" width="1" height="6" fill="#4cf078"/><rect x="227" y="485" width="1" height="5" fill="#ff0000"/><rect x="228" y="483" width="1" height="5" fill="#4cf078"/><rect x="229" y="482" width="1" height="5" fill="#ff0000"/><rect x="230" y="482" width="1" height="4" fill="#4cf078"/><rect x="231" y="482" width="1" height="4" fill="#4cf078"/><rect x="232" y="481" width="1" height="4" fill="#ff0000"/><rect x="233" y="482" width="1" height="6" fill="#4cf078"/><rect x="234" y="484" width="1" height="8" fill="#ff0000"/><rect x="235" y="487" width="1" height="8" fill="#4cf078"/><rect x="236" y="488" width="1" height="9" fill="#ff0000"/><rect x="237" y="490" width="1" height="9" fill="#4cf078"/><rect x="238" y="492" width="1" height="9" fill="#ff0000"/><rect x="239" y="496" width="1" height="6" fill="#ff0000"/><rect x="240" y="497" width="1" height="9" fill="#4cf078"/><rect x="241" y="499" width="1" height="9" fill="#ff0000"/><rect x="242" y="499" width="1" height="10" fill="#4cf078"/><rect x="243" y="501" width="1" height="6" fill="#ff0000"/><rect x="244" y="502" width="1" height="6" fill="#4cf078"/><rect x="245" y="502" width="1" height="9" fill="#ff0000"/><rect x="246" y="504" width="1" height="9" fill="#ff0000"/><rect x="247" y="505" width="1" height="6" fill="#ff0000"/><rect x="248" y="505" width="1" height="6" fill="#4cf078"/><rect x="249" y="503" width="1" height="5" fill="#ff0000"/><rect x="250" y="504" width="1" height="3" fill="#4cf078"/><rect x="251" y="503" width="1" height="5" fill="#ff0000"/><rect x="252" y="501" width="1" height="5" fill="#4cf078"/><rect x="253" y="501" width="1" height="6" fill="#ff0000"/><rect x="254" y="501" width="1" height="5" fill="#4cf078"/><rect x="255" y="500" width="1" height="5" fill="#ff0000"/><rect x="256" y="500" width="1" height="4" fill="#4cf078"/><rect x="257" y="499" width="1" height="5" fill="#ff0000"/><rect x="258" y="500" width="1" height="4" fill="#ff0000"/><rect x="259" y="501" width="1" height="6" fill="#ff0000"/><rect x="260" y="501" width="1" height="4" fill="#ff0000"/><rect x="261" y="500" width="1" height="6" fill="#ff0000"/><rect x="262" y="501" width="1" height="8" fill="#4cf078"/><rect x="263" y="504" width="1" height="9" fill="#ff0000"/><rect x="264" y="506" width="1" height="6" fill="#4cf078"/><rect x="265" y="507" width="1" height="6" fill="#4cf078"/><rect x="266" y="507" width="1" height="5" fill="#ff0000"/><rect x="267" y="507" width="1" height="5" fill="#4cf078"/><rect x="268" y="507" width="1" height="5" fill="#4cf078"/><rect x="269" y="507" width="1" height="5" fill="#ff0000"/><rect x="270" y="508" width="1" height="6" fill="#ff0000"/><rect x="271" y="510" width="1" height="13" fill="#ff0000"/><rect x="272" y="516" width="1" height="12" fill="#4cf078"/><rect x="273" y="522" width="1" height="11" fill="#ff0000"/><rect x="274" y="525" width="1" height="14" fill="#4cf078"/><rect x="275" y="531" width="1" height="9" fill="#ff0000"/><rect x="276" y="533" width="1" height="12" fill="#4cf078"/><rect x="277" y="536" width="1" height="11" fill="#ff0000"/><rect x="278" y="538" width="1" height="10" fill="#4cf078"/><rect x="279" y="541" width="1" height="8" fill="#ff0000"/><rect x="280" y="541" width="1" height="9" fill="#ff0000"/><rect x="281" y="541" width="1" height="5" fill="#4cf078"/><rect x="282" y="541" width="1" height="5" fill="#ff0000"/><rect x="283" y="532" width="1" height="17" fill="#4cf078"/><rect x="284" y="515" width="1" height="28" fill="#4cf078"/><rect x="285" y="508" width="1" height="30" fill="#ff0000"/><rect x="286" y="504" width="1" height="16" fill="#4cf078"/><rect x="287" y="504" width="1" height="13" fill="#ff0000"/><rect x="288" y="508" width="1" height="8" fill="#ff0000"/><rect x="289" y="508" width="1" height="10" fill="#4cf078"/><rect x="290" y="509" width="1" height="8" fill="#ff0000"/><rect x="291" y="509" width="1" height="7" fill="#4cf078"/><rect x="292" y="508" width="1" height="6" fill="#ff0000"/><rect x="293" y="506" width="1" height="5" fill="#4cf078"/><rect x="294" y="507" width="1" height="5" fill="#ff0000"/><rect x="295" y="508" width="1" height="4" fill="#4cf078"/><rect x="296" y="509" width="1" height="6" fill="#ff0000"/><rect x="297" y="512" width="1" height="7" fill="#4cf078"/><rect x="298" y="510" width="1" height="6" fill="#ff0000"/><rect x="299" y="506" width="1" height="11" fill="#4cf078"/><rect x="300" y="509" width="1" height="5" fill="#ff0000"/><rect x="301" y="509" width="1" height="5" fill="#ff0000"/><rect x="302" y="510" width="1" height="6" fill="#4cf078"/><rect x="303" y="510" width="1" height="8" fill="#ff0000"/><rect x="304" y="511" width="1" height="7" fill="#ff0000"/><rect x="305" y="512" width="1" height="6" fill="#ff0000"/><rect x="306" y="513" width="1" height="7" fill="#4cf078"/><rect x="307" y="513" width="1" height="8" fill="#ff0000"/><rect x="308" y="516" width="1" height="7" fill="#4cf078"/><rect x="309" y="515" width="1" height="7" fill="#ff0000"/><rect x="310" y="517" width="1" height="7" fill="#4cf078"/><rect x="311" y="518" width="1" height="7" fill="#ff0000"/><rect x="312" y="519" width="1" height="7" fill="#ff0000"/><rect x="313" y="518" width="1" height="9" fill="#4cf078"/><rect x="314" y="520" width="1" height="10" fill="#ff0000"/><rect x="315" y="524" width="1" height="8" fill="#4cf078"/><rect x="316" y="524" width="1" height="8" fill="#4cf078"/><rect x="317" y="526" width="1" height="6" fill="#ff0000"/><rect x="318" y="526" width="1" height="8" fill="#ff0000"/><rect x="319" y="526" width="1" height="8" fill="#4cf078"/><rect x="320" y="527" width="1" height="8" fill="#ff0000"/><rect x="321" y="529" width="1" height="7" fill="#ff0000"/><rect x="322" y="530" width="1" height="8" fill="#ff0000"/><rect x="323" y="529" width="1" height="7" fill="#4cf078"/><rect x="324" y="527" width="1" height="7" fill="#ff0000"/><rect x="325" y="526" width="1" height="6" fill="#4cf078"/><rect x="326" y="525" width="1" height="7" fill="#ff0000"/><rect x="327" y="523" width="1" height="6" fill="#4cf078"/><rect x="328" y="521" width="1" height="7" fill="#4cf078"/><rect x="329" y="519" width="1" height="8" fill="#ff0000"/><rect x="330" y="519" width="1" height="6" fill="#4cf078"/><rect x="331" y="520" width="1" height="5" fill="#ff0000"/><rect x="332" y="520" width="1" height="6" fill="#4cf078"/><rect x="333" y="521" width="1" height="6" fill="#4cf078"/><rect x="334" y="520" width="1" height="5" fill="#ff0000"/><rect x="335" y="519" width="1" height="7" fill="#4cf078"/><rect x="336" y="518" width="1" height="7" fill="#4cf078"/><rect x="337" y="518" width="1" height="6" fill="#4cf078"/><rect x="338" y="519" width="1" height="6" fill="#4cf078"/><rect x="339" y="519" width="1" height="6" fill="#4cf078"/><rect x="340" y="518" width="1" height="6" fill="#4cf078"/><rect x="341" y="518" width="1" height="7" fill="#ff0000"/><rect x="342" y="517" width="1" height="6" fill="#4cf078"/><rect x="343" y="516" width="1" height="7" fill="#ff0000"/><rect x="344" y="516" width="1" height="5" fill="#4cf078"/><rect x="345" y="516" width="1" height="3" fill="#4cf078"/><rect x="346" y="514" width="1" height="5" fill="#ff0000"/><rect x="347" y="515" width="1" height="8" fill="#4cf078"/><rect x="348" y="518" width="1" height="10" fill="#ff0000"/><rect x="349" y="522" width="1" height="12" fill="#ff0000"/><rect x="350" y="526" width="1" height="12" fill="#4cf078"/><rect x="351" y="528" width="1" height="11" fill="#ff0000"/><rect x="352" y="527" width="1" height="12" fill="#4cf078"/><rect x="353" y="529" width="1" height="11" fill="#ff0000"/><rect x="354" y="531" width="1" height="11" fill="#ff0000"/><rect x="355" y="535" width="1" height="12" fill="#ff0000"/><rect x="356" y="537" width="1" height="11" fill="#4cf078"/><rect x="357" y="541" width="1" height="8" fill="#ff0000"/><rect x="358" y="541" width="1" height="10" fill="#4cf078"/><rect x="359" y="542" width="1" height="11" fill="#ff0000"/><rect x="360" y="545" width="1" height="10" fill="#4cf078"/><rect x="361" y="549" width="1" height="8" fill="#ff0000"/><rect x="362" y="551" width="1" height="9" fill="#4cf078"/><rect x="363" y="554" width="1" height="7" fill="#ff0000"/><rect x="364" y="555" width="1" height="6" fill="#4cf078"/><rect x="365" y="555" width="1" height="5" fill="#ff0000"/><rect x="366" y="554" width="1" height="6" fill="#4cf078"/><rect x="367" y="555" width="1" height="4" fill="#ff0000"/><rect x="368" y="553" width="1" height="6" fill="#4cf078"/><rect x="369" y="553" width="1" height="7" fill="#4cf078"/><rect x="370" y="553" width="1" height="7" fill="#ff0000"/><rect x="371" y="553" width="1" height="6" fill="#4cf078"/><rect x="372" y="556" width="1" height="4" fill="#ff0000"/><rect x="373" y="555" width="1" height="5" fill="#4cf078"/><rect x="374" y="555" width="1" height="5" fill="#ff0000"/><rect x="375" y="553" width="1" height="6" fill="#4cf078"/><rect x="376" y="552" width="1" height="6" fill="#ff0000"/><rect x="377" y="550" width="1" height="8" fill="#4cf078"/><rect x="378" y="550" width="1" height="7" fill="#ff0000"/><rect x="379" y="553" width="1" height="6" fill="#4cf078"/><rect x="380" y="552" width="1" height="6" fill="#ff0000"/><rect x="381" y="552" width="1" height="7" fill="#4cf078"/><rect x="382" y="547" width="1" height="11" fill="#4cf078"/><rect x="383" y="545" width="1" height="10" fill="#ff0000"/><rect x="384" y="543" width="1" height="9" fill="#4cf078"/><rect x="385" y="543" width="1" height="6" fill="#ff0000"/><rect x="386" y="542" width="1" height="5" fill="#4cf078"/><rect x="387" y="542" width="1" height="5" fill="#4cf078"/><rect x="388" y="542" width="1" height="5" fill="#4cf078"/><rect x="389" y="540" width="1" height="5" fill="#4cf078"/><rect x="390" y="538" width="1" height="7" fill="#ff0000"/><rect x="391" y="535" width="1" height="8" fill="#4cf078"/><rect x="392" y="533" width="1" height="11" fill="#ff0000"/><rect x="393" y="531" width="1" height="11" fill="#4cf078"/><rect x="394" y="533" width="1" height="8" fill="#ff0000"/><rect x="395" y="533" width="1" height="6" fill="#4cf078"/><rect x="396" y="532" width="1" height="7" fill="#ff0000"/><rect x="397" y="529" width="1" height="7" fill="#4cf078"/><rect x="398" y="531" width="1" height="6" fill="#4cf078"/><rect x="399" y="528" width="1" height="7" fill="#ff0000"/><rect x="400" y="526" width="1" height="9" fill="#4cf078"/><rect x="401" y="519" width="1" height="11" fill="#4cf078"/><rect x="402" y="516" width="1" height="8" fill="#ff0000"/><rect x="403" y="518" width="1" height="4" fill="#4cf078"/><rect x="404" y="517" width="1" height="7" fill="#ff0000"/><rect x="405" y="518" width="1" height="6" fill="#4cf078"/><rect x="406" y="521" width="1" height="3" fill="#4cf078"/><rect x="407" y="520" width="1" height="4" fill="#ff0000"/><rect x="408" y="521" width="1" height="5" fill="#4cf078"/><rect x="409" y="521" width="1" height="11" fill="#ff0000"/><rect x="410" y="523" width="1" height="18" fill="#ff0000"/><rect x="411" y="527" width="1" height="7" fill="#4cf078"/><rect x="412" y="528" width="1" height="6" fill="#ff0000"/><rect x="413" y="527" width="1" height="6" fill="#4cf078"/><rect x="414" y="525" width="1" height="6" fill="#4cf078"/><rect x="415" y="525" width="1" height="4" fill="#ff0000"/><rect x="416" y="525" width="1" height="5" fill="#4cf078"/><rect x="417" y="526" width="1" height="5" fill="#ff0000"/><rect x="418" y="527" width="1" height="6" fill="#4cf078"/><rect x="419" y="527" width="1" height="7" fill="#ff0000"/><rect x="420" y="529" width="1" height="6" fill="#ff0000"/><rect x="421" y="529" width="1" height="7" fill="#4cf078"/><rect x="422" y="532" width="1" height="8" fill="#ff0000"/><rect x="423" y="533" width="1" height="9" fill="#4cf078"/><rect x="424" y="536" width="1" height="7" fill="#ff0000"/><rect x="425" y="538" width="1" height="7" fill="#4cf078"/><rect x="426" y="539" width="1" height="5" fill="#4cf078"/><rect x="427" y="536" width="1" height="8" fill="#4cf078"/><rect x="428" y="537" width="1" height="9" fill="#ff0000"/><rect x="429" y="538" width="1" height="9" fill="#4cf078"/><rect x="430" y="540" width="1" height="8" fill="#ff0000"/><rect x="431" y="540" width="1" height="10" fill="#ff0000"/><rect x="432" y="541" width="1" height="8" fill="#ff0000"/><rect x="433" y="540" width="1" height="9" fill="#4cf078"/><rect x="434" y="538" width="1" height="10" fill="#ff0000"/><rect x="435" y="538" width="1" height="11" fill="#4cf078"/><rect x="436" y="538" width="1" height="8" fill="#ff0000"/><rect x="437" y="536" width="1" height="10" fill="#4cf078"/><rect x="438" y="531" width="1" height="11" fill="#4cf078"/><rect x="439" y="528" width="1" height="11" fill="#4cf078"/><rect x="440" y="528" width="1" height="9" fill="#4cf078"/><rect x="441" y="524" width="1" height="11" fill="#ff0000"/><rect x="442" y="523" width="1" height="9" fill="#4cf078"/><rect x="443" y="518" width="1" height="9" fill="#ff0000"/><rect x="444" y="512" width="1" height="13" fill="#4cf078"/><rect x="445" y="508" width="1" height="9" fill="#ff0000"/><rect x="446" y="509" width="1" height="8" fill="#4cf078"/><rect x="447" y="508" width="1" height="10" fill="#ff0000"/><rect x="448" y="505" width="1" height="10" fill="#4cf078"/><rect x="449" y="504" width="1" height="9" fill="#4cf078"/><rect x="450" y="501" width="1" height="10" fill="#4cf078"/><rect x="451" y="501" width="1" height="7" fill="#ff0000"/><rect x="452" y="501" width="1" height="5" fill="#4cf078"/><rect x="453" y="500" width="1" height="6" fill="#4cf078"/><rect x="454" y="501" width="1" height="5" fill="#ff0000"/><rect x="455" y="503" width="1" height="6" fill="#4cf078"/><rect x="456" y="504" width="1" height="6" fill="#ff0000"/><rect x="457" y="505" width="1" height="6" fill="#4cf078"/><rect x="458" y="506" width="1" height="6" fill="#ff0000"/><rect x="459" y="507" width="1" height="5" fill="#ff0000"/><rect x="460" y="506" width="1" height="5" fill="#4cf078"/><rect x="461" y="505" width="1" height="5" fill="#4cf078"/><rect x="462" y="501" width="1" height="8" fill="#4cf078"/><rect x="463" y="497" width="1" height="10" fill="#4cf078"/><rect x="464" y="499" width="1" height="8" fill="#ff0000"/><rect x="465" y="500" width="1" height="5" fill="#4cf078"/><rect x="466" y="497" width="1" height="6" fill="#ff0000"/><rect x="467" y="493" width="1" height="7" fill="#4cf078"/><rect x="468" y="490" width="1" height="9" fill="#ff0000"/><rect x="469" y="487" width="1" height="8" fill="#4cf078"/><rect x="470" y="485" width="1" height="9" fill="#ff0000"/><rect x="471" y="485" width="1" height="7" fill="#4cf078"/><rect x="472" y="487" width="1" height="6" fill="#4cf078"/><rect x="473" y="487" width="1" height="6" fill="#ff0000"/><rect x="474" y="490" width="1" height="5" fill="#4cf078"/><rect x="475" y="491" width="1" height="6" fill="#ff0000"/><rect x="476" y="493" width="1" height="6" fill="#4cf078"/><rect x="477" y="496" width="1" height="4" fill="#ff0000"/><rect x="478" y="495" width="1" height="5" fill="#4cf078"/><rect x="479" y="496" width="1" height="5" fill="#ff0000"/><rect x="480" y="494" width="1" height="8" fill="#4cf078"/><rect x="481" y="488" width="1" height="10" fill="#ff0000"/><rect x="482" y="484" width="1" height="9" fill="#4cf078"/><rect x="483" y="485" width="1" height="6" fill="#4cf078"/><rect x="484" y="484" width="1" height="7" fill="#ff0000"/><rect x="485" y="485" width="1" height="6" fill="#ff0000"/><rect x="486" y="487" width="1" height="6" fill="#4cf078"/><rect x="487" y="488" width="1" height="4" fill="#ff0000"/><rect x="488" y="490" width="1" height="3" fill="#4cf078"/><rect x="489" y="490" width="1" height="5" fill="#ff0000"/><rect x="490" y="491" width="1" height="5" fill="#4cf078"/><rect x="491" y="491" width="1" height="4" fill="#4cf078"/><rect x="492" y="488" width="1" height="6" fill="#4cf078"/><rect x="493" y="486" width="1" height="6" fill="#4cf078"/><rect x="494" y="482" width="1" height="9" fill="#ff0000"/><rect x="495" y="478" width="1" height="9" fill="#4cf078"/><rect x="496" y="477" width="1" height="5" fill="#ff0000"/><rect x="497" y="478" width="1" height="8" fill="#4cf078"/><rect x="498" y="482" width="1" height="6" fill="#ff0000"/><rect x="499" y="481" width="1" height="7" fill="#ff0000"/><rect x="500" y="481" width="1" height="9" fill="#4cf078"/><rect x="501" y="482" width="1" height="5" fill="#ff0000"/><rect x="502" y="481" width="1" height="7" fill="#4cf078"/><rect x="503" y="480" width="1" height="8" fill="#ff0000"/><rect x="504" y="478" width="1" height="8" fill="#4cf078"/><rect x="505" y="477" width="1" height="8" fill="#ff0000"/><rect x="506" y="476" width="1" height="7" fill="#4cf078"/><rect x="507" y="474" width="1" height="6" fill="#4cf078"/><rect x="508" y="475" width="1" height="6" fill="#ff0000"/><rect x="509" y="475" width="1" height="6" fill="#4cf078"/><rect x="510" y="477" width="1" height="6" fill="#ff0000"/><rect x="511" y="479" width="1" height="6" fill="#4cf078"/><rect x="512" y="480" width="1" height="6" fill="#ff0000"/><rect x="513" y="480" width="1" height="8" fill="#ff0000"/><rect x="514" y="481" width="1" height="8" fill="#4cf078"/><rect x="515" y="482" width="1" height="8" fill="#ff0000"/><rect x="516" y="484" width="1" height="6" fill="#ff0000"/><rect x="517" y="484" width="1" height="7" fill="#4cf078"/><rect x="518" y="486" width="1" height="5" fill="#4cf078"/><rect x="519" y="485" width="1" height="8" fill="#4cf078"/><rect x="520" y="485" width="1" height="6" fill="#ff0000"/><rect x="521" y="487" width="1" height="6" fill="#4cf078"/><rect x="522" y="488" width="1" height="5" fill="#ff0000"/><rect x="523" y="486" width="1" height="5" fill="#4cf078"/><rect x="524" y="488" width="1" height="4" fill="#ff0000"/><rect x="525" y="489" width="1" height="5" fill="#4cf078"/><rect x="526" y="488" width="1" height="6" fill="#ff0000"/><rect x="527" y="488" width="1" height="5" fill="#4cf078"/><rect x="528" y="487" width="1" height="4" fill="#ff0000"/><rect x="529" y="485" width="1" height="5" fill="#4cf078"/><rect x="530" y="485" width="1" height="4" fill="#4cf078"/><rect x="531" y="483" width="1" height="6" fill="#ff0000"/><rect x="532" y="481" width="1" height="6" fill="#4cf078"/><rect x="533" y="476" width="1" height="10" fill="#ff0000"/><rect x="534" y="471" width="1" height="11" fill="#4cf078"/><rect x="535" y="468" width="1" height="8" fill="#ff0000"/><rect x="536" y="464" width="1" height="8" fill="#4cf078"/><rect x="537" y="460" width="1" height="7" fill="#4cf078"/><rect x="538" y="459" width="1" height="5" fill="#4cf078"/><rect x="539" y="457" width="1" height="5" fill="#ff0000"/><rect x="540" y="455" width="1" height="5" fill="#4cf078"/><rect x="541" y="453" width="1" height="8" fill="#ff0000"/><rect x="542" y="453" width="1" height="9" fill="#4cf078"/><rect x="543" y="451" width="1" height="9" fill="#4cf078"/><rect x="544" y="450" width="1" height="8" fill="#ff0000"/><rect x="545" y="451" width="1" height="9" fill="#4cf078"/><rect x="546" y="452" width="1" height="7" fill="#ff0000"/><rect x="547" y="451" width="1" height="6" fill="#4cf078"/><rect x="548" y="451" width="1" height="5" fill="#ff0000"/><rect x="549" y="449" width="1" height="6" fill="#4cf078"/><rect x="550" y="448" width="1" height="7" fill="#ff0000"/><rect x="551" y="444" width="1" height="8" fill="#4cf078"/><rect x="552" y="444" width="1" height="11" fill="#ff0000"/><rect x="553" y="447" width="1" height="7" fill="#ff0000"/><rect x="554" y="451" width="1" height="8" fill="#4cf078"/><rect x="555" y="455" width="1" height="7" fill="#ff0000"/><rect x="556" y="457" width="1" height="6" fill="#4cf078"/><rect x="557" y="458" width="1" height="7" fill="#ff0000"/><rect x="558" y="460" width="1" height="6" fill="#ff0000"/><rect x="559" y="461" width="1" height="4" fill="#4cf078"/><rect x="560" y="461" width="1" height="5" fill="#4cf078"/><rect x="561" y="461" width="1" height="4" fill="#4cf078"/><rect x="562" y="460" width="1" height="6" fill="#ff0000"/><rect x="563" y="461" width="1" height="5" fill="#ff0000"/><rect x="564" y="460" width="1" height="6" fill="#4cf078"/><rect x="565" y="461" width="1" height="4" fill="#ff0000"/><rect x="566" y="463" width="1" height="6" fill="#ff0000"/><rect x="567" y="464" width="1" height="8" fill="#4cf078"/><rect x="568" y="465" width="1" height="6" fill="#ff0000"/><rect x="569" y="464" width="1" height="8" fill="#4cf078"/><rect x="570" y="459" width="1" height="11" fill="#4cf078"/><rect x="571" y="459" width="1" height="12" fill="#ff0000"/><rect x="572" y="458" width="1" height="15" fill="#4cf078"/><rect x="573" y="467" width="1" height="11" fill="#ff0000"/><rect x="574" y="471" width="1" height="8" fill="#4cf078"/><rect x="575" y="470" width="1" height="7" fill="#ff0000"/><rect x="576" y="471" width="1" height="5" fill="#ff0000"/><rect x="577" y="470" width="1" height="6" fill="#4cf078"/><rect x="578" y="468" width="1" height="8" fill="#ff0000"/><rect x="579" y="470" width="1" height="5" fill="#4cf078"/><rect x="580" y="469" width="1" height="6" fill="#4cf078"/><rect x="581" y="468" width="1" height="7" fill="#ff0000"/><rect x="582" y="466" width="1" height="6" fill="#4cf078"/><rect x="583" y="466" width="1" height="5" fill="#4cf078"/><rect x="584" y="466" width="1" height="4" fill="#ff0000"/><rect x="585" y="465" width="1" height="4" fill="#4cf078"/><rect x="586" y="465" width="1" height="6" fill="#ff0000"/><rect x="587" y="465" width="1" height="8" fill="#4cf078"/><rect x="588" y="467" width="1" height="6" fill="#ff0000"/><rect x="589" y="467" width="1" height="7" fill="#4cf078"/><rect x="590" y="468" width="1" height="7" fill="#ff0000"/><rect x="591" y="468" width="1" height="6" fill="#4cf078"/><rect x="592" y="467" width="1" height="7" fill="#ff0000"/><rect x="593" y="467" width="1" height="5" fill="#4cf078"/><rect x="594" y="466" width="1" height="5" fill="#4cf078"/><rect x="595" y="466" width="1" height="4" fill="#4cf078"/><rect x="596" y="466" width="1" height="4" fill="#ff0000"/><rect x="597" y="467" width="1" height="3" fill="#ff0000"/><rect x="598" y="466" width="1" height="4" fill="#4cf078"/><rect x="599" y="467" width="1" height="4" fill="#ff0000"/><rect x="600" y="467" width="1" height="4" fill="#4cf078"/><rect x="601" y="467" width="1" height="4" fill="#ff0000"/><rect x="602" y="466" width="1" height="4" fill="#4cf078"/><rect x="603" y="466" width="1" height="3" fill="#4cf078"/><rect x="604" y="465" width="1" height="5" fill="#4cf078"/><rect x="605" y="463" width="1" height="7" fill="#ff0000"/><rect x="606" y="467" width="1" height="7" fill="#ff0000"/><rect x="607" y="468" width="1" height="6" fill="#4cf078"/><rect x="608" y="469" width="1" height="7" fill="#ff0000"/><rect x="609" y="471" width="1" height="6" fill="#4cf078"/><rect x="610" y="471" width="1" height="6" fill="#ff0000"/><rect x="611" y="472" width="1" height="4" fill="#4cf078"/><rect x="612" y="471" width="1" height="5" fill="#4cf078"/><rect x="613" y="469" width="1" height="6" fill="#ff0000"/><rect x="614" y="468" width="1" height="7" fill="#4cf078"/><rect x="615" y="467" width="1" height="6" fill="#4cf078"/><rect x="616" y="467" width="1" height="6" fill="#ff0000"/><rect x="617" y="467" width="1" height="5" fill="#4cf078"/><rect x="618" y="466" width="1" height="5" fill="#4cf078"/><rect x="619" y="466" width="1" height="4" fill="#ff0000"/><rect x="620" y="467" width="1" height="4" fill="#ff0000"/><rect x="621" y="469" width="1" height="5" fill="#4cf078"/><rect x="622" y="469" width="1" height="5" fill="#ff0000"/><rect x="623" y="471" width="1" height="6" fill="#4cf078"/><rect x="624" y="471" width="1" height="6" fill="#4cf078"/><rect x="625" y="471" width="1" height="7" fill="#ff0000"/><rect x="626" y="471" width="1" height="7" fill="#ff0000"/><rect x="627" y="473" width="1" height="6" fill="#4cf078"/><rect x="628" y="474" width="1" height="7" fill="#ff0000"/><rect x="629" y="476" width="1" height="6" fill="#ff0000"/><rect x="630" y="475" width="1" height="7" fill="#4cf078"/><rect x="631" y="479" width="1" height="5" fill="#ff0000"/><rect x="632" y="480" width="1" height="5" fill="#ff0000"/><rect x="633" y="481" width="1" height="5" fill="#ff0000"/><rect x="634" y="481" width="1" height="5" fill="#ff0000"/><rect x="635" y="484" width="1" height="5" fill="#4cf078"/><rect x="636" y="486" width="1" height="5" fill="#ff0000"/><rect x="637" y="488" width="1" height="5" fill="#4cf078"/><rect x="638" y="488" width="1" height="4" fill="#ff0000"/><rect x="639" y="486" width="1" height="5" fill="#4cf078"/><rect x="640" y="483" width="1" height="8" fill="#ff0000"/><rect x="641" y="481" width="1" height="8" fill="#4cf078"/><rect x="642" y="481" width="1" height="7" fill="#4cf078"/><rect x="643" y="480" width="1" height="6" fill="#ff0000"/><rect x="644" y="478" width="1" height="5" fill="#4cf078"/><rect x="645" y="476" width="1" height="5" fill="#ff0000"/><rect x="646" y="475" width="1" height="5" fill="#4cf078"/><rect x="647" y="474" width="1" height="4" fill="#ff0000"/><rect x="648" y="475" width="1" height="5" fill="#4cf078"/><rect x="649" y="474" width="1" height="8" fill="#ff0000"/><rect x="650" y="464" width="1" height="14" fill="#4cf078"/><rect x="651" y="453" width="1" height="19" fill="#ff0000"/><rect x="652" y="447" width="1" height="13" fill="#4cf078"/><rect x="653" y="449" width="1" height="7" fill="#ff0000"/><rect x="654" y="452" width="1" height="7" fill="#ff0000"/><rect x="655" y="456" width="1" height="7" fill="#ff0000"/><rect x="656" y="458" width="1" height="6" fill="#ff0000"/><rect x="657" y="458" width="1" height="6" fill="#ff0000"/><rect x="658" y="460" width="1" height="6" fill="#4cf078"/><rect x="659" y="462" width="1" height="6" fill="#ff0000"/><rect x="660" y="463" width="1" height="8" fill="#ff0000"/><rect x="661" y="464" width="1" height="6" fill="#4cf078"/><rect x="662" y="465" width="1" height="7" fill="#ff0000"/><rect x="663" y="466" width="1" height="6" fill="#4cf078"/><rect x="664" y="465" width="1" height="5" fill="#ff0000"/><rect x="665" y="464" width="1" height="4" fill="#4cf078"/><rect x="666" y="462" width="1" height="7" fill="#4cf078"/><rect x="667" y="462" width="1" height="6" fill="#4cf078"/><rect x="668" y="462" width="1" height="5" fill="#ff0000"/><rect x="669" y="463" width="1" height="5" fill="#4cf078"/><rect x="670" y="464" width="1" height="7" fill="#ff0000"/><rect x="671" y="467" width="1" height="6" fill="#4cf078"/><rect x="672" y="466" width="1" height="6" fill="#ff0000"/><rect x="673" y="466" width="1" height="5" fill="#4cf078"/><rect x="674" y="466" width="1" height="6" fill="#ff0000"/><rect x="675" y="466" width="1" height="5" fill="#4cf078"/><rect x="676" y="466" width="1" height="3" fill="#ff0000"/><rect x="677" y="466" width="1" height="4" fill="#4cf078"/><rect x="678" y="465" width="1" height="4" fill="#4cf078"/><rect x="679" y="457" width="1" height="11" fill="#ff0000"/><rect x="680" y="448" width="1" height="17" fill="#4cf078"/><rect x="681" y="441" width="1" height="14" fill="#ff0000"/><rect x="682" y="444" width="1" height="10" fill="#4cf078"/><rect x="683" y="446" width="1" height="7" fill="#ff0000"/><rect x="684" y="448" width="1" height="6" fill="#ff0000"/><rect x="685" y="447" width="1" height="9" fill="#4cf078"/><rect x="686" y="448" width="1" height="9" fill="#ff0000"/><rect x="687" y="447" width="1" height="9" fill="#4cf078"/><rect x="688" y="441" width="1" height="10" fill="#ff0000"/><rect x="689" y="436" width="1" height="9" fill="#4cf078"/><rect x="690" y="432" width="1" height="8" fill="#4cf078"/><rect x="691" y="427" width="1" height="8" fill="#ff0000"/><rect x="692" y="425" width="1" height="7" fill="#4cf078"/><rect x="693" y="421" width="1" height="8" fill="#ff0000"/><rect x="694" y="423" width="1" height="7" fill="#ff0000"/><rect x="695" y="425" width="1" height="7" fill="#ff0000"/><rect x="696" y="424" width="1" height="6" fill="#ff0000"/><rect x="697" y="425" width="1" height="5" fill="#4cf078"/><rect x="698" y="424" width="1" height="5" fill="#ff0000"/><rect x="699" y="423" width="1" height="6" fill="#4cf078"/><rect x="700" y="421" width="1" height="5" fill="#ff0000"/><rect x="701" y="420" width="1" height="5" fill="#4cf078"/><rect x="702" y="419" width="1" height="8" fill="#ff0000"/><rect x="703" y="415" width="1" height="9" fill="#4cf078"/><rect x="704" y="411" width="1" height="8" fill="#ff0000"/><rect x="705" y="409" width="1" height="6" fill="#4cf078"/><rect x="706" y="407" width="1" height="6" fill="#4cf078"/><rect x="707" y="406" width="1" height="7" fill="#4cf078"/><rect x="708" y="403" width="1" height="7" fill="#ff0000"/><rect x="709" y="402" width="1" height="7" fill="#4cf078"/><rect x="710" y="400" width="1" height="7" fill="#4cf078"/><rect x="711" y="397" width="1" height="8" fill="#4cf078"/><rect x="712" y="395" width="1" height="8" fill="#4cf078"/><rect x="713" y="394" width="1" height="6" fill="#ff0000"/><rect x="714" y="392" width="1" height="8" fill="#4cf078"/><rect x="715" y="390" width="1" height="7" fill="#ff0000"/><rect x="716" y="389" width="1" height="6" fill="#4cf078"/><rect x="717" y="386" width="1" height="6" fill="#ff0000"/>
<polygon points="25.5,456 30.9,450.5 27.9,450.5 27.9,443.5 23.1,443.5 23.1,450.5 20.1,450.5" fill="url(#og)" stroke="#c8760e" stroke-width="1" stroke-linejoin="miter"/>
<polygon points="54,467 59.4,461.5 56.4,461.5 56.4,454.5 51.6,454.5 51.6,461.5 48.6,461.5" fill="url(#og)" stroke="#c8760e" stroke-width="1" stroke-linejoin="miter"/>
<polygon points="66.5,450.5 71.9,445 68.9,445 68.9,438 64.1,438 64.1,445 61.1,445" fill="url(#og)" stroke="#c8760e" stroke-width="1" stroke-linejoin="miter"/>
<polygon points="92.5,455.5 97.9,450 94.9,450 94.9,443 90.1,443 90.1,450 87.1,450" fill="url(#og)" stroke="#c8760e" stroke-width="1" stroke-linejoin="miter"/>
<polygon points="109,445.5 114.4,440 111.4,440 111.4,433 106.6,433 106.6,440 103.6,440" fill="url(#og)" stroke="#c8760e" stroke-width="1" stroke-linejoin="miter"/>
<polygon points="113,443.5 118.4,438 115.4,438 115.4,431 110.6,431 110.6,438 107.6,438" fill="url(#og)" stroke="#c8760e" stroke-width="1" stroke-linejoin="miter"/>
<polygon points="131,452.5 136.4,447 133.4,447 133.4,440 128.6,440 128.6,447 125.6,447" fill="url(#og)" stroke="#c8760e" stroke-width="1" stroke-linejoin="miter"/>
<polygon points="136,447.5 141.4,442 138.4,442 138.4,435 133.6,435 133.6,442 130.6,442" fill="url(#og)" stroke="#c8760e" stroke-width="1" stroke-linejoin="miter"/>
<polygon points="161.5,454.7 166.9,449.2 163.9,449.2 163.9,442.2 159.1,442.2 159.1,449.2 156.1,449.2" fill="url(#og)" stroke="#c8760e" stroke-width="1" stroke-linejoin="miter"/>
<polygon points="163,473.5 168.4,468 165.4,468 165.4,461 160.6,461 160.6,468 157.6,468" fill="url(#og)" stroke="#c8760e" stroke-width="1" stroke-linejoin="miter"/>
<polygon points="173.5,488.5 178.9,483 175.9,483 175.9,476 171.1,476 171.1,483 168.1,483" fill="url(#og)" stroke="#c8760e" stroke-width="1" stroke-linejoin="miter"/>
<polygon points="237,488 242.4,482.5 239.4,482.5 239.4,475.5 234.6,475.5 234.6,482.5 231.6,482.5" fill="url(#og)" stroke="#c8760e" stroke-width="1" stroke-linejoin="miter"/>
<polygon points="240.3,495.8 245.7,490.3 242.7,490.3 242.7,483.3 237.9,483.3 237.9,490.3 234.9,490.3" fill="url(#og)" stroke="#c8760e" stroke-width="1" stroke-linejoin="miter"/>
<polygon points="246.7,498 252.1,492.5 249.1,492.5 249.1,485.5 244.3,485.5 244.3,492.5 241.3,492.5" fill="url(#og)" stroke="#c8760e" stroke-width="1" stroke-linejoin="miter"/>
<polygon points="274.9,532.4 280.3,526.9 277.3,526.9 277.3,519.9 272.5,519.9 272.5,526.9 269.5,526.9" fill="url(#og)" stroke="#c8760e" stroke-width="1" stroke-linejoin="miter"/>
<polygon points="347.5,515.4 352.9,509.9 349.9,509.9 349.9,502.9 345.1,502.9 345.1,509.9 342.1,509.9" fill="url(#og)" stroke="#c8760e" stroke-width="1" stroke-linejoin="miter"/>
<polygon points="358.4,539.2 363.8,533.7 360.8,533.7 360.8,526.7 356,526.7 356,533.7 353,533.7" fill="url(#og)" stroke="#c8760e" stroke-width="1" stroke-linejoin="miter"/>
<polygon points="363.3,552 368.7,546.5 365.7,546.5 365.7,539.5 360.9,539.5 360.9,546.5 357.9,546.5" fill="url(#og)" stroke="#c8760e" stroke-width="1" stroke-linejoin="miter"/>
<polygon points="372.1,553.4 377.5,547.9 374.5,547.9 374.5,540.9 369.7,540.9 369.7,547.9 366.7,547.9" fill="url(#og)" stroke="#c8760e" stroke-width="1" stroke-linejoin="miter"/>
<polygon points="395.2,534.5 400.6,529 397.6,529 397.6,522 392.8,522 392.8,529 389.8,529" fill="url(#og)" stroke="#c8760e" stroke-width="1" stroke-linejoin="miter"/>
<polygon points="426,532 431.4,526.5 428.4,526.5 428.4,519.5 423.6,519.5 423.6,526.5 420.6,526.5" fill="url(#og)" stroke="#c8760e" stroke-width="1" stroke-linejoin="miter"/>
<polygon points="471.2,481 476.6,475.5 473.6,475.5 473.6,468.5 468.8,468.5 468.8,475.5 465.8,475.5" fill="url(#og)" stroke="#c8760e" stroke-width="1" stroke-linejoin="miter"/>
<polygon points="542,454 547.4,448.5 544.4,448.5 544.4,441.5 539.6,441.5 539.6,448.5 536.6,448.5" fill="url(#og)" stroke="#c8760e" stroke-width="1" stroke-linejoin="miter"/>
<polygon points="556.3,444.5 561.7,439 558.7,439 558.7,432 553.9,432 553.9,439 550.9,439" fill="url(#og)" stroke="#c8760e" stroke-width="1" stroke-linejoin="miter"/>
<polygon points="572,457.1 577.4,451.6 574.4,451.6 574.4,444.6 569.6,444.6 569.6,451.6 566.6,451.6" fill="url(#og)" stroke="#c8760e" stroke-width="1" stroke-linejoin="miter"/>
<polygon points="608.5,465.3 613.9,459.8 610.9,459.8 610.9,452.8 606.1,452.8 606.1,459.8 603.1,459.8" fill="url(#og)" stroke="#c8760e" stroke-width="1" stroke-linejoin="miter"/>
<polygon points="657.4,457.2 662.8,451.7 659.8,451.7 659.8,444.7 655,444.7 655,451.7 652,451.7" fill="url(#og)" stroke="#c8760e" stroke-width="1" stroke-linejoin="miter"/>
<polygon points="684.5,443.7 689.9,438.2 686.9,438.2 686.9,431.2 682.1,431.2 682.1,438.2 679.1,438.2" fill="url(#og)" stroke="#c8760e" stroke-width="1" stroke-linejoin="miter"/>
<polygon points="692.4,425.1 697.8,419.6 694.8,419.6 694.8,412.6 690,412.6 690,419.6 687,419.6" fill="url(#og)" stroke="#c8760e" stroke-width="1" stroke-linejoin="miter"/>
<polygon points="15.4,458.8 20.8,464.3 17.8,464.3 17.8,471.3 13,471.3 13,464.3 10,464.3" fill="url(#bg)" stroke="#2a62d8" stroke-width="1" stroke-linejoin="miter"/>
<polygon points="51.5,479.3 56.9,484.8 53.9,484.8 53.9,491.8 49.1,491.8 49.1,484.8 46.1,484.8" fill="url(#bg)" stroke="#2a62d8" stroke-width="1" stroke-linejoin="miter"/>
<polygon points="58.3,481.3 63.7,486.8 60.7,486.8 60.7,493.8 55.9,493.8 55.9,486.8 52.9,486.8" fill="url(#bg)" stroke="#2a62d8" stroke-width="1" stroke-linejoin="miter"/>
<polygon points="63,483.3 68.4,488.8 65.4,488.8 65.4,495.8 60.6,495.8 60.6,488.8 57.6,488.8" fill="url(#bg)" stroke="#2a62d8" stroke-width="1" stroke-linejoin="miter"/>
<polygon points="74.8,460 80.2,465.5 77.2,465.5 77.2,472.5 72.4,472.5 72.4,465.5 69.4,465.5" fill="url(#bg)" stroke="#2a62d8" stroke-width="1" stroke-linejoin="miter"/>
<polygon points="100.5,450 105.9,455.5 102.9,455.5 102.9,462.5 98.1,462.5 98.1,455.5 95.1,455.5" fill="url(#bg)" stroke="#2a62d8" stroke-width="1" stroke-linejoin="miter"/>
<polygon points="167.2,490 172.6,495.5 169.6,495.5 169.6,502.5 164.8,502.5 164.8,495.5 161.8,495.5" fill="url(#bg)" stroke="#2a62d8" stroke-width="1" stroke-linejoin="miter"/>
<polygon points="170.8,494.5 176.2,500 173.2,500 173.2,507 168.4,507 168.4,500 165.4,500" fill="url(#bg)" stroke="#2a62d8" stroke-width="1" stroke-linejoin="miter"/>
<polygon points="201.2,495.2 206.6,500.7 203.6,500.7 203.6,507.7 198.8,507.7 198.8,500.7 195.8,500.7" fill="url(#bg)" stroke="#2a62d8" stroke-width="1" stroke-linejoin="miter"/>
<polygon points="209.2,494.2 214.6,499.7 211.6,499.7 211.6,506.7 206.8,506.7 206.8,499.7 203.8,499.7" fill="url(#bg)" stroke="#2a62d8" stroke-width="1" stroke-linejoin="miter"/>
<polygon points="286.2,519.4 291.6,524.9 288.6,524.9 288.6,531.9 283.8,531.9 283.8,524.9 280.8,524.9" fill="url(#bg)" stroke="#2a62d8" stroke-width="1" stroke-linejoin="miter"/>
<polygon points="290.5,516.5 295.9,522 292.9,522 292.9,529 288.1,529 288.1,522 285.1,522" fill="url(#bg)" stroke="#2a62d8" stroke-width="1" stroke-linejoin="miter"/>
<polygon points="284.8,550.1 290.2,555.6 287.2,555.6 287.2,562.6 282.4,562.6 282.4,555.6 279.4,555.6" fill="url(#bg)" stroke="#2a62d8" stroke-width="1" stroke-linejoin="miter"/>
<polygon points="310.3,518.2 315.7,523.7 312.7,523.7 312.7,530.7 307.9,530.7 307.9,523.7 304.9,523.7" fill="url(#bg)" stroke="#2a62d8" stroke-width="1" stroke-linejoin="miter"/>
<polygon points="316.3,527.5 321.7,533 318.7,533 318.7,540 313.9,540 313.9,533 310.9,533" fill="url(#bg)" stroke="#2a62d8" stroke-width="1" stroke-linejoin="miter"/>
<polygon points="321,529.6 326.4,535.1 323.4,535.1 323.4,542.1 318.6,542.1 318.6,535.1 315.6,535.1" fill="url(#bg)" stroke="#2a62d8" stroke-width="1" stroke-linejoin="miter"/>
<polygon points="349.2,536.7 354.6,542.2 351.6,542.2 351.6,549.2 346.8,549.2 346.8,542.2 343.8,542.2" fill="url(#bg)" stroke="#2a62d8" stroke-width="1" stroke-linejoin="miter"/>
<polygon points="400.4,536.4 405.8,541.9 402.8,541.9 402.8,548.9 398,548.9 398,541.9 395,541.9" fill="url(#bg)" stroke="#2a62d8" stroke-width="1" stroke-linejoin="miter"/>
<polygon points="392.4,548 397.8,553.5 394.8,553.5 394.8,560.5 390,560.5 390,553.5 387,553.5" fill="url(#bg)" stroke="#2a62d8" stroke-width="1" stroke-linejoin="miter"/>
<polygon points="444.9,528.9 450.3,534.4 447.3,534.4 447.3,541.4 442.5,541.4 442.5,534.4 439.5,534.4" fill="url(#bg)" stroke="#2a62d8" stroke-width="1" stroke-linejoin="miter"/>
<polygon points="429.5,545.2 434.9,550.7 431.9,550.7 431.9,557.7 427.1,557.7 427.1,550.7 424.1,550.7" fill="url(#bg)" stroke="#2a62d8" stroke-width="1" stroke-linejoin="miter"/>
<polygon points="440.9,546.1 446.3,551.6 443.3,551.6 443.3,558.6 438.5,558.6 438.5,551.6 435.5,551.6" fill="url(#bg)" stroke="#2a62d8" stroke-width="1" stroke-linejoin="miter"/>
<polygon points="459.6,511 465,516.5 462,516.5 462,523.5 457.2,523.5 457.2,516.5 454.2,516.5" fill="url(#bg)" stroke="#2a62d8" stroke-width="1" stroke-linejoin="miter"/>
<polygon points="468.4,502 473.8,507.5 470.8,507.5 470.8,514.5 466,514.5 466,507.5 463,507.5" fill="url(#bg)" stroke="#2a62d8" stroke-width="1" stroke-linejoin="miter"/>
<polygon points="478.6,502.3 484,507.8 481,507.8 481,514.8 476.2,514.8 476.2,507.8 473.2,507.8" fill="url(#bg)" stroke="#2a62d8" stroke-width="1" stroke-linejoin="miter"/>
<polygon points="481.6,503 487,508.5 484,508.5 484,515.5 479.2,515.5 479.2,508.5 476.2,508.5" fill="url(#bg)" stroke="#2a62d8" stroke-width="1" stroke-linejoin="miter"/>
<polygon points="495.3,485.2 500.7,490.7 497.7,490.7 497.7,497.7 492.9,497.7 492.9,490.7 489.9,490.7" fill="url(#bg)" stroke="#2a62d8" stroke-width="1" stroke-linejoin="miter"/>
<polygon points="505.3,489.1 510.7,494.6 507.7,494.6 507.7,501.6 502.9,501.6 502.9,494.6 499.9,494.6" fill="url(#bg)" stroke="#2a62d8" stroke-width="1" stroke-linejoin="miter"/>
<polygon points="535.7,486.5 541.1,492 538.1,492 538.1,499 533.3,499 533.3,492 530.3,492" fill="url(#bg)" stroke="#2a62d8" stroke-width="1" stroke-linejoin="miter"/>
<polygon points="538.5,467.2 543.9,472.7 540.9,472.7 540.9,479.7 536.1,479.7 536.1,472.7 533.1,472.7" fill="url(#bg)" stroke="#2a62d8" stroke-width="1" stroke-linejoin="miter"/>
<polygon points="553.1,457.2 558.5,462.7 555.5,462.7 555.5,469.7 550.7,469.7 550.7,462.7 547.7,462.7" fill="url(#bg)" stroke="#2a62d8" stroke-width="1" stroke-linejoin="miter"/>
<polygon points="570.3,470.3 575.7,475.8 572.7,475.8 572.7,482.8 567.9,482.8 567.9,475.8 564.9,475.8" fill="url(#bg)" stroke="#2a62d8" stroke-width="1" stroke-linejoin="miter"/>
<polygon points="580.5,475.2 585.9,480.7 582.9,480.7 582.9,487.7 578.1,487.7 578.1,480.7 575.1,480.7" fill="url(#bg)" stroke="#2a62d8" stroke-width="1" stroke-linejoin="miter"/>
<polygon points="650.4,482.2 655.8,487.7 652.8,487.7 652.8,494.7 648,494.7 648,487.7 645,487.7" fill="url(#bg)" stroke="#2a62d8" stroke-width="1" stroke-linejoin="miter"/>
<polygon points="652.1,463.3 657.5,468.8 654.5,468.8 654.5,475.8 649.7,475.8 649.7,468.8 646.7,468.8" fill="url(#bg)" stroke="#2a62d8" stroke-width="1" stroke-linejoin="miter"/>
<polygon points="680.7,470.3 686.1,475.8 683.1,475.8 683.1,482.8 678.3,482.8 678.3,475.8 675.3,475.8" fill="url(#bg)" stroke="#2a62d8" stroke-width="1" stroke-linejoin="miter"/>
<polygon points="690.1,430 695.5,435.5 692.5,435.5 692.5,442.5 687.7,442.5 687.7,435.5 684.7,435.5" fill="url(#bg)" stroke="#2a62d8" stroke-width="1" stroke-linejoin="miter"/>
<polygon points="698.6,432.1 704,437.6 701,437.6 701,444.6 696.2,444.6 696.2,437.6 693.2,437.6" fill="url(#bg)" stroke="#2a62d8" stroke-width="1" stroke-linejoin="miter"/>
<polygon points="716.5,400.5 721.9,406 718.9,406 718.9,413 714.1,413 714.1,406 711.1,406" fill="url(#bg)" stroke="#2a62d8" stroke-width="1" stroke-linejoin="miter"/>
<rect x="23" y="476" width="11" height="5" fill="url(#bg)"/>
<path d="M23 475h11v1h-11z M23 481h11v1h-11z M22 476v5h1v-5z M34 476v5h1v-5z" fill="#2a62d8"/>
<path d="M22 475h1v1h-1z M34 475h1v1h-1z M22 481h1v1h-1z M34 481h1v1h-1z" fill="#2a62d8" fill-opacity="0.55"/>
<rect x="49" y="490" width="11" height="5" fill="url(#bg)"/>
<path d="M49 489h11v1h-11z M49 495h11v1h-11z M48 490v5h1v-5z M60 490v5h1v-5z" fill="#2a62d8"/>
<path d="M48 489h1v1h-1z M60 489h1v1h-1z M48 495h1v1h-1z M60 495h1v1h-1z" fill="#2a62d8" fill-opacity="0.55"/>
<rect x="63" y="471" width="11" height="5" fill="url(#bg)"/>
<path d="M63 470h11v1h-11z M63 476h11v1h-11z M62 471v5h1v-5z M74 471v5h1v-5z" fill="#2a62d8"/>
<path d="M62 470h1v1h-1z M74 470h1v1h-1z M62 476h1v1h-1z M74 476h1v1h-1z" fill="#2a62d8" fill-opacity="0.55"/>
<rect x="95" y="473" width="3" height="3" fill="url(#bg)"/>
<path d="M95 472h3v1h-3z M95 476h3v1h-3z M94 473v3h1v-3z M98 473v3h1v-3z" fill="#2a62d8"/>
<path d="M94 472h1v1h-1z M98 472h1v1h-1z M94 476h1v1h-1z M98 476h1v1h-1z" fill="#2a62d8" fill-opacity="0.55"/>
<rect x="110" y="464" width="11" height="5" fill="url(#bg)"/>
<path d="M110 463h11v1h-11z M110 469h11v1h-11z M109 464v5h1v-5z M121 464v5h1v-5z" fill="#2a62d8"/>
<path d="M109 463h1v1h-1z M121 463h1v1h-1z M109 469h1v1h-1z M121 469h1v1h-1z" fill="#2a62d8" fill-opacity="0.55"/>
<rect x="133" y="469" width="11" height="5" fill="url(#bg)"/>
<path d="M133 468h11v1h-11z M133 474h11v1h-11z M132 469v5h1v-5z M144 469v5h1v-5z" fill="#2a62d8"/>
<path d="M132 468h1v1h-1z M144 468h1v1h-1z M132 474h1v1h-1z M144 474h1v1h-1z" fill="#2a62d8" fill-opacity="0.55"/>
<rect x="156" y="475" width="11" height="5" fill="url(#bg)"/>
<path d="M156 474h11v1h-11z M156 480h11v1h-11z M155 475v5h1v-5z M167 475v5h1v-5z" fill="#2a62d8"/>
<path d="M155 474h1v1h-1z M167 474h1v1h-1z M155 480h1v1h-1z M167 480h1v1h-1z" fill="#2a62d8" fill-opacity="0.55"/>
<rect x="158" y="497" width="11" height="5" fill="url(#bg)"/>
<path d="M158 496h11v1h-11z M158 502h11v1h-11z M157 497v5h1v-5z M169 497v5h1v-5z" fill="#2a62d8"/>
<path d="M157 496h1v1h-1z M169 496h1v1h-1z M157 502h1v1h-1z M169 502h1v1h-1z" fill="#2a62d8" fill-opacity="0.55"/>
<rect x="169" y="511" width="11" height="5" fill="url(#bg)"/>
<path d="M169 510h11v1h-11z M169 516h11v1h-11z M168 511v5h1v-5z M180 511v5h1v-5z" fill="#2a62d8"/>
<path d="M168 510h1v1h-1z M180 510h1v1h-1z M168 516h1v1h-1z M180 516h1v1h-1z" fill="#2a62d8" fill-opacity="0.55"/>
<rect x="233" y="510" width="11" height="5" fill="url(#bg)"/>
<path d="M233 509h11v1h-11z M233 515h11v1h-11z M232 510v5h1v-5z M244 510v5h1v-5z" fill="#2a62d8"/>
<path d="M232 509h1v1h-1z M244 509h1v1h-1z M232 515h1v1h-1z M244 515h1v1h-1z" fill="#2a62d8" fill-opacity="0.55"/>
<rect x="237" y="517" width="11" height="5" fill="url(#bg)"/>
<path d="M237 516h11v1h-11z M237 522h11v1h-11z M236 517v5h1v-5z M248 517v5h1v-5z" fill="#2a62d8"/>
<path d="M236 516h1v1h-1z M248 516h1v1h-1z M236 522h1v1h-1z M248 522h1v1h-1z" fill="#2a62d8" fill-opacity="0.55"/>
<rect x="243" y="519" width="11" height="5" fill="url(#bg)"/>
<path d="M243 518h11v1h-11z M243 524h11v1h-11z M242 519v5h1v-5z M254 519v5h1v-5z" fill="#2a62d8"/>
<path d="M242 518h1v1h-1z M254 518h1v1h-1z M242 524h1v1h-1z M254 524h1v1h-1z" fill="#2a62d8" fill-opacity="0.55"/>
<rect x="271" y="554" width="11" height="5" fill="url(#bg)"/>
<path d="M271 553h11v1h-11z M271 559h11v1h-11z M270 554v5h1v-5z M282 554v5h1v-5z" fill="#2a62d8"/>
<path d="M270 553h1v1h-1z M282 553h1v1h-1z M270 559h1v1h-1z M282 559h1v1h-1z" fill="#2a62d8" fill-opacity="0.55"/>
<rect x="320" y="543" width="11" height="5" fill="url(#bg)"/>
<path d="M320 542h11v1h-11z M320 548h11v1h-11z M319 543v5h1v-5z M331 543v5h1v-5z" fill="#2a62d8"/>
<path d="M319 542h1v1h-1z M331 542h1v1h-1z M319 548h1v1h-1z M331 548h1v1h-1z" fill="#2a62d8" fill-opacity="0.55"/>
<rect x="344" y="541" width="11" height="5" fill="url(#bg)"/>
<path d="M344 540h11v1h-11z M344 546h11v1h-11z M343 541v5h1v-5z M355 541v5h1v-5z" fill="#2a62d8"/>
<path d="M343 540h1v1h-1z M355 540h1v1h-1z M343 546h1v1h-1z M355 546h1v1h-1z" fill="#2a62d8" fill-opacity="0.55"/>
<rect x="423" y="553" width="11" height="5" fill="url(#bg)"/>
<path d="M423 552h11v1h-11z M423 558h11v1h-11z M422 553v5h1v-5z M434 553v5h1v-5z" fill="#2a62d8"/>
<path d="M422 552h1v1h-1z M434 552h1v1h-1z M422 558h1v1h-1z M434 558h1v1h-1z" fill="#2a62d8" fill-opacity="0.55"/>
<rect x="472" y="505" width="8" height="3" fill="url(#bg)"/>
<path d="M472 504h8v1h-8z M472 508h8v1h-8z M471 505v3h1v-3z M480 505v3h1v-3z" fill="#2a62d8"/>
<path d="M471 504h1v1h-1z M480 504h1v1h-1z M471 508h1v1h-1z M480 508h1v1h-1z" fill="#2a62d8" fill-opacity="0.55"/>
<rect x="552" y="468" width="11" height="5" fill="url(#bg)"/>
<path d="M552 467h11v1h-11z M552 473h11v1h-11z M551 468v5h1v-5z M563 468v5h1v-5z" fill="#2a62d8"/>
<path d="M551 467h1v1h-1z M563 467h1v1h-1z M551 473h1v1h-1z M563 473h1v1h-1z" fill="#2a62d8" fill-opacity="0.55"/>
<rect x="567" y="483" width="11" height="5" fill="url(#bg)"/>
<path d="M567 482h11v1h-11z M567 488h11v1h-11z M566 483v5h1v-5z M578 483v5h1v-5z" fill="#2a62d8"/>
<path d="M566 482h1v1h-1z M578 482h1v1h-1z M566 488h1v1h-1z M578 488h1v1h-1z" fill="#2a62d8" fill-opacity="0.55"/>
<rect x="625" y="486" width="11" height="5" fill="url(#bg)"/>
<path d="M625 485h11v1h-11z M625 491h11v1h-11z M624 486v5h1v-5z M636 486v5h1v-5z" fill="#2a62d8"/>
<path d="M624 485h1v1h-1z M636 485h1v1h-1z M624 491h1v1h-1z M636 491h1v1h-1z" fill="#2a62d8" fill-opacity="0.55"/>
<rect x="657" y="479" width="11" height="5" fill="url(#bg)"/>
<path d="M657 478h11v1h-11z M657 484h11v1h-11z M656 479v5h1v-5z M668 479v5h1v-5z" fill="#2a62d8"/>
<path d="M656 478h1v1h-1z M668 478h1v1h-1z M656 484h1v1h-1z M668 484h1v1h-1z" fill="#2a62d8" fill-opacity="0.55"/>
<rect x="682" y="465" width="11" height="5" fill="url(#bg)"/>
<path d="M682 464h11v1h-11z M682 470h11v1h-11z M681 465v5h1v-5z M693 465v5h1v-5z" fill="#2a62d8"/>
<path d="M681 464h1v1h-1z M693 464h1v1h-1z M681 470h1v1h-1z M693 470h1v1h-1z" fill="#2a62d8" fill-opacity="0.55"/>
<rect x="682" y="450" width="11" height="5" fill="url(#bg)"/>
<path d="M682 449h11v1h-11z M682 455h11v1h-11z M681 450v5h1v-5z M693 450v5h1v-5z" fill="#2a62d8"/>
<path d="M681 449h1v1h-1z M693 449h1v1h-1z M681 455h1v1h-1z M693 455h1v1h-1z" fill="#2a62d8" fill-opacity="0.55"/>
<rect x="687" y="447" width="11" height="5" fill="url(#bg)"/>
<path d="M687 446h11v1h-11z M687 452h11v1h-11z M686 447v5h1v-5z M698 447v5h1v-5z" fill="#2a62d8"/>
<path d="M686 446h1v1h-1z M698 446h1v1h-1z M686 452h1v1h-1z M698 452h1v1h-1z" fill="#2a62d8" fill-opacity="0.55"/>
<rect x="89" y="463" width="9" height="9" fill="url(#bg)"/>
<path d="M89 462h9v1h-9z M89 472h9v1h-9z M88 463v9h1v-9z M98 463v9h1v-9z" fill="#2a62d8"/>
<path d="M88 462h1v1h-1z M98 462h1v1h-1z M88 472h1v1h-1z M98 472h1v1h-1z" fill="#2a62d8" fill-opacity="0.55"/>
<rect x="107" y="457" width="9" height="9" fill="url(#bg)"/>
<path d="M107 456h9v1h-9z M107 466h9v1h-9z M106 457v9h1v-9z M116 457v9h1v-9z" fill="#2a62d8"/>
<path d="M106 456h1v1h-1z M116 456h1v1h-1z M106 466h1v1h-1z M116 466h1v1h-1z" fill="#2a62d8" fill-opacity="0.55"/>
<rect x="127" y="463" width="9" height="9" fill="url(#bg)"/>
<path d="M127 462h9v1h-9z M127 472h9v1h-9z M126 463v9h1v-9z M136 463v9h1v-9z" fill="#2a62d8"/>
<path d="M126 462h1v1h-1z M136 462h1v1h-1z M126 472h1v1h-1z M136 472h1v1h-1z" fill="#2a62d8" fill-opacity="0.55"/>
<rect x="391" y="545" width="9" height="9" fill="url(#bg)"/>
<path d="M391 544h9v1h-9z M391 554h9v1h-9z M390 545v9h1v-9z M400 545v9h1v-9z" fill="#2a62d8"/>
<path d="M390 544h1v1h-1z M400 544h1v1h-1z M390 554h1v1h-1z M400 554h1v1h-1z" fill="#2a62d8" fill-opacity="0.55"/>
<rect x="542" y="463" width="6" height="8" fill="url(#bg)"/>
<path d="M542 462h6v1h-6z M542 471h6v1h-6z M541 463v8h1v-8z M548 463v8h1v-8z" fill="#2a62d8"/>
<path d="M541 462h1v1h-1z M548 462h1v1h-1z M541 471h1v1h-1z M548 471h1v1h-1z" fill="#2a62d8" fill-opacity="0.55"/>
<rect x="11" y="434" width="11" height="5" fill="url(#og)"/>
<path d="M11 433h11v1h-11z M11 439h11v1h-11z M10 434v5h1v-5z M22 434v5h1v-5z" fill="#c8760e"/>
<path d="M10 433h1v1h-1z M22 433h1v1h-1z M10 439h1v1h-1z M22 439h1v1h-1z" fill="#c8760e" fill-opacity="0.55"/>
<rect x="47" y="453" width="11" height="5" fill="url(#og)"/>
<path d="M47 452h11v1h-11z M47 458h11v1h-11z M46 453v5h1v-5z M58 453v5h1v-5z" fill="#c8760e"/>
<path d="M46 452h1v1h-1z M58 452h1v1h-1z M46 458h1v1h-1z M58 458h1v1h-1z" fill="#c8760e" fill-opacity="0.55"/>
<rect x="58" y="457" width="8" height="5" fill="url(#og)"/>
<path d="M58 456h8v1h-8z M58 462h8v1h-8z M57 457v5h1v-5z M66 457v5h1v-5z" fill="#c8760e"/>
<path d="M57 456h1v1h-1z M66 456h1v1h-1z M57 462h1v1h-1z M66 462h1v1h-1z" fill="#c8760e" fill-opacity="0.55"/>
<rect x="97" y="433" width="9" height="9" fill="url(#og)"/>
<path d="M97 432h9v1h-9z M97 442h9v1h-9z M96 433v9h1v-9z M106 433v9h1v-9z" fill="#c8760e"/>
<path d="M96 432h1v1h-1z M106 432h1v1h-1z M96 442h1v1h-1z M106 442h1v1h-1z" fill="#c8760e" fill-opacity="0.55"/>
<rect x="82" y="435" width="11" height="5" fill="url(#og)"/>
<path d="M82 434h11v1h-11z M82 440h11v1h-11z M81 435v5h1v-5z M93 435v5h1v-5z" fill="#c8760e"/>
<path d="M81 434h1v1h-1z M93 434h1v1h-1z M81 440h1v1h-1z M93 440h1v1h-1z" fill="#c8760e" fill-opacity="0.55"/>
<rect x="93" y="437" width="11" height="5" fill="url(#og)"/>
<path d="M93 436h11v1h-11z M93 442h11v1h-11z M92 437v5h1v-5z M104 437v5h1v-5z" fill="#c8760e"/>
<path d="M92 436h1v1h-1z M104 436h1v1h-1z M92 442h1v1h-1z M104 442h1v1h-1z" fill="#c8760e" fill-opacity="0.55"/>
<rect x="166" y="467" width="11" height="5" fill="url(#og)"/>
<path d="M166 466h11v1h-11z M166 472h11v1h-11z M165 467v5h1v-5z M177 467v5h1v-5z" fill="#c8760e"/>
<path d="M165 466h1v1h-1z M177 466h1v1h-1z M165 472h1v1h-1z M177 472h1v1h-1z" fill="#c8760e" fill-opacity="0.55"/>
<rect x="167" y="474" width="6" height="8" fill="url(#og)"/>
<path d="M167 473h6v1h-6z M167 482h6v1h-6z M166 474v8h1v-8z M173 474v8h1v-8z" fill="#c8760e"/>
<path d="M166 473h1v1h-1z M173 473h1v1h-1z M166 482h1v1h-1z M173 482h1v1h-1z" fill="#c8760e" fill-opacity="0.55"/>
<rect x="219" y="469" width="11" height="5" fill="url(#og)"/>
<path d="M219 468h11v1h-11z M219 474h11v1h-11z M218 469v5h1v-5z M230 469v5h1v-5z" fill="#c8760e"/>
<path d="M218 468h1v1h-1z M230 468h1v1h-1z M218 474h1v1h-1z M230 474h1v1h-1z" fill="#c8760e" fill-opacity="0.55"/>
<rect x="203" y="478" width="9" height="9" fill="url(#og)"/>
<path d="M203 477h9v1h-9z M203 487h9v1h-9z M202 478v9h1v-9z M212 478v9h1v-9z" fill="#c8760e"/>
<path d="M202 477h1v1h-1z M212 477h1v1h-1z M202 487h1v1h-1z M212 487h1v1h-1z" fill="#c8760e" fill-opacity="0.55"/>
<rect x="287" y="494" width="9" height="9" fill="url(#og)"/>
<path d="M287 493h9v1h-9z M287 503h9v1h-9z M286 494v9h1v-9z M296 494v9h1v-9z" fill="#c8760e"/>
<path d="M286 493h1v1h-1z M296 493h1v1h-1z M286 503h1v1h-1z M296 503h1v1h-1z" fill="#c8760e" fill-opacity="0.55"/>
<rect x="281" y="491" width="11" height="5" fill="url(#og)"/>
<path d="M281 490h11v1h-11z M281 496h11v1h-11z M280 491v5h1v-5z M292 491v5h1v-5z" fill="#c8760e"/>
<path d="M280 490h1v1h-1z M292 490h1v1h-1z M280 496h1v1h-1z M292 496h1v1h-1z" fill="#c8760e" fill-opacity="0.55"/>
<rect x="279" y="506" width="11" height="5" fill="url(#og)"/>
<path d="M279 505h11v1h-11z M279 511h11v1h-11z M278 506v5h1v-5z M290 506v5h1v-5z" fill="#c8760e"/>
<path d="M278 505h1v1h-1z M290 505h1v1h-1z M278 511h1v1h-1z M290 511h1v1h-1z" fill="#c8760e" fill-opacity="0.55"/>
<rect x="279" y="526" width="11" height="5" fill="url(#og)"/>
<path d="M279 525h11v1h-11z M279 531h11v1h-11z M278 526v5h1v-5z M290 526v5h1v-5z" fill="#c8760e"/>
<path d="M278 525h1v1h-1z M290 525h1v1h-1z M278 531h1v1h-1z M290 531h1v1h-1z" fill="#c8760e" fill-opacity="0.55"/>
<rect x="318" y="511" width="9" height="9" fill="url(#og)"/>
<path d="M318 510h9v1h-9z M318 520h9v1h-9z M317 511v9h1v-9z M327 511v9h1v-9z" fill="#c8760e"/>
<path d="M317 510h1v1h-1z M327 510h1v1h-1z M317 520h1v1h-1z M327 520h1v1h-1z" fill="#c8760e" fill-opacity="0.55"/>
<rect x="313" y="507" width="9" height="9" fill="url(#og)"/>
<path d="M313 506h9v1h-9z M313 516h9v1h-9z M312 507v9h1v-9z M322 507v9h1v-9z" fill="#c8760e"/>
<path d="M312 506h1v1h-1z M322 506h1v1h-1z M312 516h1v1h-1z M322 516h1v1h-1z" fill="#c8760e" fill-opacity="0.55"/>
<rect x="307" y="502" width="9" height="9" fill="url(#og)"/>
<path d="M307 501h9v1h-9z M307 511h9v1h-9z M306 502v9h1v-9z M316 502v9h1v-9z" fill="#c8760e"/>
<path d="M306 501h1v1h-1z M316 501h1v1h-1z M306 511h1v1h-1z M316 511h1v1h-1z" fill="#c8760e" fill-opacity="0.55"/>
<rect x="351" y="523" width="9" height="9" fill="url(#og)"/>
<path d="M351 522h9v1h-9z M351 532h9v1h-9z M350 523v9h1v-9z M360 523v9h1v-9z" fill="#c8760e"/>
<path d="M350 522h1v1h-1z M360 522h1v1h-1z M350 532h1v1h-1z M360 532h1v1h-1z" fill="#c8760e" fill-opacity="0.55"/>
<rect x="346" y="518" width="9" height="9" fill="url(#og)"/>
<path d="M346 517h9v1h-9z M346 527h9v1h-9z M345 518v9h1v-9z M355 518v9h1v-9z" fill="#c8760e"/>
<path d="M345 517h1v1h-1z M355 517h1v1h-1z M345 527h1v1h-1z M355 527h1v1h-1z" fill="#c8760e" fill-opacity="0.55"/>
<rect x="367" y="541" width="11" height="5" fill="url(#og)"/>
<path d="M367 540h11v1h-11z M367 546h11v1h-11z M366 541v5h1v-5z M378 541v5h1v-5z" fill="#c8760e"/>
<path d="M366 540h1v1h-1z M378 540h1v1h-1z M366 546h1v1h-1z M378 546h1v1h-1z" fill="#c8760e" fill-opacity="0.55"/>
<rect x="395" y="506" width="11" height="5" fill="url(#og)"/>
<path d="M395 505h11v1h-11z M395 511h11v1h-11z M394 506v5h1v-5z M406 506v5h1v-5z" fill="#c8760e"/>
<path d="M394 505h1v1h-1z M406 505h1v1h-1z M394 511h1v1h-1z M406 511h1v1h-1z" fill="#c8760e" fill-opacity="0.55"/>
<rect x="388" y="522" width="11" height="5" fill="url(#og)"/>
<path d="M388 521h11v1h-11z M388 527h11v1h-11z M387 522v5h1v-5z M399 522v5h1v-5z" fill="#c8760e"/>
<path d="M387 521h1v1h-1z M399 521h1v1h-1z M387 527h1v1h-1z M399 527h1v1h-1z" fill="#c8760e" fill-opacity="0.55"/>
<rect x="440" y="502" width="11" height="5" fill="url(#og)"/>
<path d="M440 501h11v1h-11z M440 507h11v1h-11z M439 502v5h1v-5z M451 502v5h1v-5z" fill="#c8760e"/>
<path d="M439 501h1v1h-1z M451 501h1v1h-1z M439 507h1v1h-1z M451 507h1v1h-1z" fill="#c8760e" fill-opacity="0.55"/>
<rect x="436" y="518" width="11" height="5" fill="url(#og)"/>
<path d="M436 517h11v1h-11z M436 523h11v1h-11z M435 518v5h1v-5z M447 518v5h1v-5z" fill="#c8760e"/>
<path d="M435 517h1v1h-1z M447 517h1v1h-1z M435 523h1v1h-1z M447 523h1v1h-1z" fill="#c8760e" fill-opacity="0.55"/>
<rect x="427" y="530" width="9" height="9" fill="url(#og)"/>
<path d="M427 529h9v1h-9z M427 539h9v1h-9z M426 530v9h1v-9z M436 530v9h1v-9z" fill="#c8760e"/>
<path d="M426 529h1v1h-1z M436 529h1v1h-1z M426 539h1v1h-1z M436 539h1v1h-1z" fill="#c8760e" fill-opacity="0.55"/>
<rect x="431" y="525" width="11" height="5" fill="url(#og)"/>
<path d="M431 524h11v1h-11z M431 530h11v1h-11z M430 525v5h1v-5z M442 525v5h1v-5z" fill="#c8760e"/>
<path d="M430 524h1v1h-1z M442 524h1v1h-1z M430 530h1v1h-1z M442 530h1v1h-1z" fill="#c8760e" fill-opacity="0.55"/>
<rect x="458" y="484" width="11" height="5" fill="url(#og)"/>
<path d="M458 483h11v1h-11z M458 489h11v1h-11z M457 484v5h1v-5z M469 484v5h1v-5z" fill="#c8760e"/>
<path d="M457 483h1v1h-1z M469 483h1v1h-1z M457 489h1v1h-1z M469 489h1v1h-1z" fill="#c8760e" fill-opacity="0.55"/>
<rect x="464" y="476" width="11" height="5" fill="url(#og)"/>
<path d="M464 475h11v1h-11z M464 481h11v1h-11z M463 476v5h1v-5z M475 476v5h1v-5z" fill="#c8760e"/>
<path d="M463 475h1v1h-1z M475 475h1v1h-1z M463 481h1v1h-1z M475 481h1v1h-1z" fill="#c8760e" fill-opacity="0.55"/>
<rect x="476" y="476" width="11" height="5" fill="url(#og)"/>
<path d="M476 475h11v1h-11z M476 481h11v1h-11z M475 476v5h1v-5z M487 476v5h1v-5z" fill="#c8760e"/>
<path d="M475 475h1v1h-1z M487 475h1v1h-1z M475 481h1v1h-1z M487 481h1v1h-1z" fill="#c8760e" fill-opacity="0.55"/>
<rect x="501" y="463" width="11" height="5" fill="url(#og)"/>
<path d="M501 462h11v1h-11z M501 468h11v1h-11z M500 463v5h1v-5z M512 463v5h1v-5z" fill="#c8760e"/>
<path d="M500 462h1v1h-1z M512 462h1v1h-1z M500 468h1v1h-1z M512 468h1v1h-1z" fill="#c8760e" fill-opacity="0.55"/>
<rect x="493" y="467" width="9" height="9" fill="url(#og)"/>
<path d="M493 466h9v1h-9z M493 476h9v1h-9z M492 467v9h1v-9z M502 467v9h1v-9z" fill="#c8760e"/>
<path d="M492 466h1v1h-1z M502 466h1v1h-1z M492 476h1v1h-1z M502 476h1v1h-1z" fill="#c8760e" fill-opacity="0.55"/>
<rect x="530" y="461" width="11" height="5" fill="url(#og)"/>
<path d="M530 460h11v1h-11z M530 466h11v1h-11z M529 461v5h1v-5z M541 461v5h1v-5z" fill="#c8760e"/>
<path d="M529 460h1v1h-1z M541 460h1v1h-1z M529 466h1v1h-1z M541 466h1v1h-1z" fill="#c8760e" fill-opacity="0.55"/>
<rect x="536" y="442" width="11" height="5" fill="url(#og)"/>
<path d="M536 441h11v1h-11z M536 447h11v1h-11z M535 442v5h1v-5z M547 442v5h1v-5z" fill="#c8760e"/>
<path d="M535 441h1v1h-1z M547 441h1v1h-1z M535 447h1v1h-1z M547 447h1v1h-1z" fill="#c8760e" fill-opacity="0.55"/>
<rect x="547" y="433" width="11" height="5" fill="url(#og)"/>
<path d="M547 432h11v1h-11z M547 438h11v1h-11z M546 433v5h1v-5z M558 433v5h1v-5z" fill="#c8760e"/>
<path d="M546 432h1v1h-1z M558 432h1v1h-1z M546 438h1v1h-1z M558 438h1v1h-1z" fill="#c8760e" fill-opacity="0.55"/>
<rect x="565" y="445" width="11" height="5" fill="url(#og)"/>
<path d="M565 444h11v1h-11z M565 450h11v1h-11z M564 445v5h1v-5z M576 445v5h1v-5z" fill="#c8760e"/>
<path d="M564 444h1v1h-1z M576 444h1v1h-1z M564 450h1v1h-1z M576 450h1v1h-1z" fill="#c8760e" fill-opacity="0.55"/>
<rect x="587" y="458" width="9" height="9" fill="url(#og)"/>
<path d="M587 457h9v1h-9z M587 467h9v1h-9z M586 458v9h1v-9z M596 458v9h1v-9z" fill="#c8760e"/>
<path d="M586 457h1v1h-1z M596 457h1v1h-1z M586 467h1v1h-1z M596 467h1v1h-1z" fill="#c8760e" fill-opacity="0.55"/>
<rect x="647" y="435" width="11" height="5" fill="url(#og)"/>
<path d="M647 434h11v1h-11z M647 440h11v1h-11z M646 435v5h1v-5z M658 435v5h1v-5z" fill="#c8760e"/>
<path d="M646 434h1v1h-1z M658 434h1v1h-1z M646 440h1v1h-1z M658 440h1v1h-1z" fill="#c8760e" fill-opacity="0.55"/>
<rect x="645" y="457" width="11" height="5" fill="url(#og)"/>
<path d="M645 456h11v1h-11z M645 462h11v1h-11z M644 457v5h1v-5z M656 457v5h1v-5z" fill="#c8760e"/>
<path d="M644 456h1v1h-1z M656 456h1v1h-1z M644 462h1v1h-1z M656 462h1v1h-1z" fill="#c8760e" fill-opacity="0.55"/>
<rect x="675" y="445" width="11" height="5" fill="url(#og)"/>
<path d="M675 444h11v1h-11z M675 450h11v1h-11z M674 445v5h1v-5z M686 445v5h1v-5z" fill="#c8760e"/>
<path d="M674 444h1v1h-1z M686 444h1v1h-1z M674 450h1v1h-1z M686 450h1v1h-1z" fill="#c8760e" fill-opacity="0.55"/>
<rect x="679" y="425" width="9" height="9" fill="url(#og)"/>
<path d="M679 424h9v1h-9z M679 434h9v1h-9z M678 425v9h1v-9z M688 425v9h1v-9z" fill="#c8760e"/>
<path d="M678 424h1v1h-1z M688 424h1v1h-1z M678 434h1v1h-1z M688 434h1v1h-1z" fill="#c8760e" fill-opacity="0.55"/>
<rect x="684" y="402" width="11" height="5" fill="url(#og)"/>
<path d="M684 401h11v1h-11z M684 407h11v1h-11z M683 402v5h1v-5z M695 402v5h1v-5z" fill="#c8760e"/>
<path d="M683 401h1v1h-1z M695 401h1v1h-1z M683 407h1v1h-1z M695 407h1v1h-1z" fill="#c8760e" fill-opacity="0.55"/>
<rect x="697" y="407" width="11" height="5" fill="url(#og)"/>
<path d="M697 406h11v1h-11z M697 412h11v1h-11z M696 407v5h1v-5z M708 407v5h1v-5z" fill="#c8760e"/>
<path d="M696 406h1v1h-1z M708 406h1v1h-1z M696 412h1v1h-1z M708 412h1v1h-1z" fill="#c8760e" fill-opacity="0.55"/>
</g>
<g clip-path="url(#c3)">
<rect x="1" y="369" width="737" height="17" fill="#fde9cb"/>
<rect x="1" y="386" width="737" height="1" fill="#fcd49a"/>
<rect x="143.5" y="369" width="1" height="17" fill="#fbd8a4"/>
<rect x="147.75" y="369" width="1" height="17" fill="#fbd8a4"/>
<rect x="149.75" y="369" width="1" height="17" fill="#fbd8a4"/>
<rect x="169" y="369" width="1" height="17" fill="#fbd8a4"/>
<rect x="172.75" y="369" width="1" height="17" fill="#fbd8a4"/>
<rect x="198.75" y="369" width="1" height="17" fill="#fbd8a4"/>
<rect x="201.25" y="369" width="1" height="17" fill="#fbd8a4"/>
<rect x="206.25" y="369" width="1" height="17" fill="#fbd8a4"/>
<rect x="208" y="369" width="1" height="17" fill="#fbd8a4"/>
<rect x="211.25" y="369" width="1" height="17" fill="#fbd8a4"/>
<rect x="244.75" y="369" width="1" height="17" fill="#fbd8a4"/>
<rect x="262.25" y="369" width="1" height="17" fill="#fbd8a4"/>
<rect x="275" y="369" width="1" height="17" fill="#fbd8a4"/>
<rect x="278" y="369" width="1" height="17" fill="#fbd8a4"/>
<rect x="284.4" y="369" width="1" height="17" fill="#fbd8a4"/>
<rect x="313.1" y="369" width="1" height="17" fill="#fbd8a4"/>
<rect x="320.6" y="369" width="1" height="17" fill="#fbd8a4"/>
<rect x="323.1" y="369" width="1" height="17" fill="#fbd8a4"/>
<rect x="325" y="369" width="1" height="17" fill="#fbd8a4"/>
<rect x="327.75" y="369" width="1" height="17" fill="#fbd8a4"/>
<rect x="349.4" y="369" width="1" height="17" fill="#fbd8a4"/>
<rect x="350.6" y="369" width="1" height="17" fill="#fbd8a4"/>
<rect x="353.75" y="369" width="1" height="17" fill="#fbd8a4"/>
<rect x="360.6" y="369" width="1" height="17" fill="#fbd8a4"/>
<rect x="385.6" y="369" width="1" height="17" fill="#fbd8a4"/>
<rect x="388.5" y="369" width="1" height="17" fill="#fbd8a4"/>
<rect x="392.5" y="369" width="1" height="17" fill="#fbd8a4"/>
<rect x="396.25" y="369" width="1" height="17" fill="#fbd8a4"/>
<rect x="400" y="369" width="1" height="17" fill="#fbd8a4"/>
<rect x="407.5" y="369" width="1" height="17" fill="#fbd8a4"/>
<rect x="410" y="369" width="1" height="17" fill="#fbd8a4"/>
<rect x="431.25" y="369" width="1" height="17" fill="#fbd8a4"/>
<rect x="433.75" y="369" width="1" height="17" fill="#fbd8a4"/>
<rect x="438.1" y="369" width="1" height="17" fill="#fbd8a4"/>
<rect x="464.4" y="369" width="1" height="17" fill="#fbd8a4"/>
<rect x="468.1" y="369" width="1" height="17" fill="#fbd8a4"/>
<rect x="472.5" y="369" width="1" height="17" fill="#fbd8a4"/>
<rect x="478.75" y="369" width="1" height="17" fill="#fbd8a4"/>
<rect x="482.5" y="369" width="1" height="17" fill="#fbd8a4"/>
<rect x="501.25" y="369" width="1" height="17" fill="#fbd8a4"/>
<rect x="505.6" y="369" width="1" height="17" fill="#fbd8a4"/>
<rect x="508.75" y="369" width="1" height="17" fill="#fbd8a4"/>
<rect x="518.75" y="369" width="1" height="17" fill="#fbd8a4"/>
<rect x="535" y="369" width="1" height="17" fill="#fbd8a4"/>
<rect x="544.4" y="369" width="1" height="17" fill="#fbd8a4"/>
<rect x="573.1" y="369" width="1" height="17" fill="#fbd8a4"/>
<rect x="578.75" y="369" width="1" height="17" fill="#fbd8a4"/>
<rect x="590" y="369" width="1" height="17" fill="#fbd8a4"/>
<rect x="593.1" y="369" width="1" height="17" fill="#fbd8a4"/>
<rect x="608.75" y="369" width="1" height="17" fill="#fbd8a4"/>
<rect x="610" y="369" width="1" height="17" fill="#fbd8a4"/>
<rect x="628.1" y="369" width="1" height="17" fill="#fbd8a4"/>
<rect x="646" y="369" width="1" height="17" fill="#fbd8a4"/>
<rect x="688.75" y="369" width="1" height="17" fill="#fbd8a4"/>
<rect x="690.6" y="369" width="1" height="17" fill="#fbd8a4"/>
<rect x="695" y="369" width="1" height="17" fill="#fbd8a4"/>
<rect x="718.1" y="369" width="1" height="17" fill="#fbd8a4"/>
<rect x="720" y="369" width="1" height="17" fill="#fbd8a4"/>
<rect x="721.25" y="369" width="1" height="17" fill="#fbd8a4"/>
<rect x="726.9" y="369" width="1" height="17" fill="#fbd8a4"/>
<rect x="730" y="369" width="1" height="17" fill="#fbd8a4"/>
<text x="150.6" y="382" font-size="13" fill="#111">21</text>
<text x="173.75" y="382" font-size="13" fill="#111">735</text>
<svg x="201.25" y="369" width="5" height="17"><text x="-1.75" y="13" font-size="13" fill="#111">1</text></svg>
<svg x="211.25" y="369" width="33.5" height="17"><text x="-1.75" y="13" font-size="13" fill="#111">0,011</text></svg>
<svg x="244.75" y="369" width="17.5" height="17"><text x="-1.95" y="13" font-size="13" fill="#111">35</text></svg>
<text x="264.4" y="382" font-size="13" fill="#111">5</text>
<text x="279.4" y="382" font-size="13" fill="#111">.</text>
<text x="286.5" y="382" font-size="13" fill="#111">908</text>
<svg x="313.1" y="369" width="7.5" height="17"><text x="-1.6" y="13" font-size="13" fill="#111">6</text></svg>
<text x="330.6" y="382" font-size="13" fill="#111">50</text>
<text x="351" y="382" font-size="13" fill="#111">·</text>
<svg x="353.75" y="369" width="6.85" height="17"><text x="-0.75" y="13" font-size="13" fill="#111">1</text></svg>
<svg x="361.5" y="369" width="24.1" height="17"><text x="-2.5" y="13" font-size="13" fill="#111">304</text></svg>
<text x="402.5" y="382" font-size="13" fill="#111">.</text>
<text x="412.5" y="382" font-size="13" fill="#111">44</text>
<svg x="438.1" y="369" width="26.3" height="17"><text x="-1.9" y="13" font-size="13" fill="#111">926</text></svg>
<svg x="474" y="369" width="4.75" height="17"><text x="-2" y="13" font-size="13" fill="#111">0</text></svg>
<svg x="482.5" y="369" width="18.75" height="17"><text x="-2.2" y="13" font-size="13" fill="#111">83</text></svg>
<svg x="502.5" y="369" width="3.1" height="17"><text x="-2" y="13" font-size="13" fill="#111">0</text></svg>
<svg x="508.75" y="369" width="10" height="17"><text x="-0.45" y="13" font-size="13" fill="#111">8</text></svg>
<svg x="520" y="369" width="15" height="17"><text x="-2" y="13" font-size="13" fill="#111">05</text></svg>
<text x="536" y="382" font-size="13" fill="#111">2</text>
<text x="546.9" y="382" font-size="13" fill="#111">464</text>
<svg x="574.4" y="369" width="4.35" height="17"><text x="-1.9" y="13" font-size="13" fill="#111">0</text></svg>
<text x="580.6" y="382" font-size="13" fill="#111">1</text>
<svg x="594.4" y="369" width="14.35" height="17"><text x="-2.8" y="13" font-size="13" fill="#111">66</text></svg>
<text x="610.6" y="382" font-size="13" fill="#111">79</text>
<svg x="628.75" y="369" width="17.25" height="17"><text x="-1.25" y="13" font-size="13" fill="#111">90</text></svg>
<svg x="646.9" y="369" width="41.85" height="17"><text x="-2.7" y="13" font-size="13" fill="#111">20,572</text></svg>
<svg x="696" y="369" width="22.1" height="17"><text x="-3.4" y="13" font-size="13" fill="#111">366</text></svg>
<text x="730.9" y="382" font-size="13" fill="#111">2</text>
<rect x="1" y="560" width="737" height="18" fill="#dce8fd"/>
<rect x="1" y="560" width="737" height="1" fill="#6a9cf2"/>
<rect x="53" y="560" width="1" height="18" fill="#6a9cf2"/>
<rect x="54.4" y="560" width="1" height="18" fill="#6a9cf2"/>
<rect x="65.6" y="560" width="1" height="18" fill="#6a9cf2"/>
<rect x="66.9" y="560" width="1" height="18" fill="#6a9cf2"/>
<rect x="88.75" y="560" width="1" height="18" fill="#6a9cf2"/>
<rect x="90.6" y="560" width="1" height="18" fill="#6a9cf2"/>
<rect x="93.1" y="560" width="1" height="18" fill="#6a9cf2"/>
<rect x="95.6" y="560" width="1" height="18" fill="#6a9cf2"/>
<rect x="98.75" y="560" width="1" height="18" fill="#6a9cf2"/>
<rect x="106.25" y="560" width="1" height="18" fill="#6a9cf2"/>
<rect x="111.9" y="560" width="1" height="18" fill="#6a9cf2"/>
<rect x="131.25" y="560" width="1" height="18" fill="#6a9cf2"/>
<rect x="134.4" y="560" width="1" height="18" fill="#6a9cf2"/>
<rect x="137.5" y="560" width="1" height="18" fill="#6a9cf2"/>
<rect x="148.75" y="560" width="1" height="18" fill="#6a9cf2"/>
<rect x="152.5" y="560" width="1" height="18" fill="#6a9cf2"/>
<rect x="168.75" y="560" width="1" height="18" fill="#6a9cf2"/>
<rect x="175" y="560" width="1" height="18" fill="#6a9cf2"/>
<rect x="199.4" y="560" width="1" height="18" fill="#6a9cf2"/>
<rect x="200.6" y="560" width="1" height="18" fill="#6a9cf2"/>
<rect x="202.5" y="560" width="1" height="18" fill="#6a9cf2"/>
<rect x="204.4" y="560" width="1" height="18" fill="#6a9cf2"/>
<rect x="206.25" y="560" width="1" height="18" fill="#6a9cf2"/>
<rect x="208.5" y="560" width="1" height="18" fill="#6a9cf2"/>
<rect x="210" y="560" width="1" height="18" fill="#6a9cf2"/>
<rect x="211.9" y="560" width="1" height="18" fill="#6a9cf2"/>
<rect x="238.75" y="560" width="1" height="18" fill="#6a9cf2"/>
<rect x="246.25" y="560" width="1" height="18" fill="#6a9cf2"/>
<rect x="276.25" y="560" width="1" height="18" fill="#6a9cf2"/>
<rect x="277.5" y="560" width="1" height="18" fill="#6a9cf2"/>
<rect x="280" y="560" width="1" height="18" fill="#6a9cf2"/>
<rect x="281.25" y="560" width="1" height="18" fill="#6a9cf2"/>
<rect x="285" y="560" width="1" height="18" fill="#6a9cf2"/>
<rect x="313.75" y="560" width="1" height="18" fill="#6a9cf2"/>
<rect x="315" y="560" width="1" height="18" fill="#6a9cf2"/>
<rect x="318.1" y="560" width="1" height="18" fill="#6a9cf2"/>
<rect x="323.75" y="560" width="1" height="18" fill="#6a9cf2"/>
<rect x="325" y="560" width="1" height="18" fill="#6a9cf2"/>
<rect x="328.1" y="560" width="1" height="18" fill="#6a9cf2"/>
<rect x="348.1" y="560" width="1" height="18" fill="#6a9cf2"/>
<rect x="355.6" y="560" width="1" height="18" fill="#6a9cf2"/>
<rect x="358.75" y="560" width="1" height="18" fill="#6a9cf2"/>
<rect x="363.1" y="560" width="1" height="18" fill="#6a9cf2"/>
<rect x="386.9" y="560" width="1" height="18" fill="#6a9cf2"/>
<rect x="388.1" y="560" width="1" height="18" fill="#6a9cf2"/>
<rect x="390" y="560" width="1" height="18" fill="#6a9cf2"/>
<rect x="399.4" y="560" width="1" height="18" fill="#6a9cf2"/>
<rect x="401.25" y="560" width="1" height="18" fill="#6a9cf2"/>
<rect x="403.75" y="560" width="1" height="18" fill="#6a9cf2"/>
<rect x="405.6" y="560" width="1" height="18" fill="#6a9cf2"/>
<rect x="410" y="560" width="1" height="18" fill="#6a9cf2"/>
<rect x="430" y="560" width="1" height="18" fill="#6a9cf2"/>
<rect x="431.25" y="560" width="1" height="18" fill="#6a9cf2"/>
<rect x="433.75" y="560" width="1" height="18" fill="#6a9cf2"/>
<rect x="438.1" y="560" width="1" height="18" fill="#6a9cf2"/>
<rect x="466.25" y="560" width="1" height="18" fill="#6a9cf2"/>
<rect x="467.5" y="560" width="1" height="18" fill="#6a9cf2"/>
<rect x="469.4" y="560" width="1" height="18" fill="#6a9cf2"/>
<rect x="478.1" y="560" width="1" height="18" fill="#6a9cf2"/>
<rect x="479.4" y="560" width="1" height="18" fill="#6a9cf2"/>
<rect x="481.9" y="560" width="1" height="18" fill="#6a9cf2"/>
<rect x="497.25" y="560" width="1" height="18" fill="#6a9cf2"/>
<rect x="505.6" y="560" width="1" height="18" fill="#6a9cf2"/>
<rect x="507.5" y="560" width="1" height="18" fill="#6a9cf2"/>
<rect x="511.9" y="560" width="1" height="18" fill="#6a9cf2"/>
<rect x="512.5" y="560" width="1" height="18" fill="#6a9cf2"/>
<rect x="516.9" y="560" width="1" height="18" fill="#6a9cf2"/>
<rect x="533.1" y="560" width="1" height="18" fill="#6a9cf2"/>
<rect x="543.1" y="560" width="1" height="18" fill="#6a9cf2"/>
<rect x="573.1" y="560" width="1" height="18" fill="#6a9cf2"/>
<rect x="574.4" y="560" width="1" height="18" fill="#6a9cf2"/>
<rect x="576.25" y="560" width="1" height="18" fill="#6a9cf2"/>
<rect x="580.6" y="560" width="1" height="18" fill="#6a9cf2"/>
<rect x="590.6" y="560" width="1" height="18" fill="#6a9cf2"/>
<rect x="594.4" y="560" width="1" height="18" fill="#6a9cf2"/>
<rect x="608.1" y="560" width="1" height="18" fill="#6a9cf2"/>
<rect x="610" y="560" width="1" height="18" fill="#6a9cf2"/>
<rect x="618.1" y="560" width="1" height="18" fill="#6a9cf2"/>
<rect x="668.2" y="560" width="1" height="18" fill="#6a9cf2"/>
<rect x="688.5" y="560" width="1" height="18" fill="#6a9cf2"/>
<rect x="689.8" y="560" width="1" height="18" fill="#6a9cf2"/>
<rect x="700.2" y="560" width="1" height="18" fill="#6a9cf2"/>
<rect x="718.7" y="560" width="1" height="18" fill="#6a9cf2"/>
<rect x="720.8" y="560" width="1" height="18" fill="#6a9cf2"/>
<rect x="724.9" y="560" width="1" height="18" fill="#6a9cf2"/>
<rect x="726.3" y="560" width="1" height="18" fill="#6a9cf2"/>
<rect x="730.4" y="560" width="1" height="18" fill="#6a9cf2"/>
<rect x="735.9" y="560" width="1" height="18" fill="#6a9cf2"/>
<svg x="1" y="561" width="52" height="17"><text x="0" y="12.5" font-size="13" fill="#111">121,908</text></svg>
<text x="56" y="573.5" font-size="13" fill="#111">3</text>
<svg x="66.9" y="561" width="21.85" height="17"><text x="-1.9" y="12.5" font-size="13" fill="#111">566</text></svg>
<svg x="99.4" y="561" width="6.85" height="17"><text x="-1.9" y="12.5" font-size="13" fill="#111">5</text></svg>
<text x="107.5" y="573.5" font-size="13" fill="#111">.</text>
<text x="113" y="573.5" font-size="13" fill="#111">19</text>
<text x="138.75" y="573.5" font-size="13" fill="#111">3</text>
<svg x="153" y="561" width="15.75" height="17"><text x="-1" y="12.5" font-size="13" fill="#111">21</text></svg>
<svg x="170" y="561" width="5" height="17"><text x="-2" y="12.5" font-size="13" fill="#111">0</text></svg>
<text x="175.6" y="573.5" font-size="13" fill="#111">635</text>
<svg x="212.75" y="561" width="26" height="17"><text x="-1.25" y="12.5" font-size="13" fill="#111">211</text></svg>
<svg x="240" y="561" width="6.25" height="17"><text x="-2" y="12.5" font-size="13" fill="#111">0</text></svg>
<text x="246.9" y="573.5" font-size="13" fill="#111">,815</text>
<text x="287.5" y="573.5" font-size="13" fill="#111">808</text>
<text x="329.4" y="573.5" font-size="13" fill="#111">50</text>
<svg x="348.75" y="561" width="6.85" height="17"><text x="-2.25" y="12.5" font-size="13" fill="#111">0</text></svg>
<svg x="363.1" y="561" width="23.8" height="17"><text x="-1.1" y="12.5" font-size="13" fill="#111">204</text></svg>
<text x="390.6" y="573.5" font-size="13" fill="#111">5</text>
<text x="411.9" y="573.5" font-size="13" fill="#111">44</text>
<text x="439.4" y="573.5" font-size="13" fill="#111">826</text>
<svg x="470" y="561" width="8.1" height="17"><text x="-2" y="12.5" font-size="13" fill="#111">0</text></svg>
<svg x="482.25" y="561" width="15" height="17"><text x="-2.45" y="12.5" font-size="13" fill="#111">33</text></svg>
<svg x="498" y="561" width="7.6" height="17"><text x="-2" y="12.5" font-size="13" fill="#111">0</text></svg>
<text x="506" y="573.5" font-size="13" fill="#111">·</text>
<svg x="517.5" y="561" width="15.6" height="17"><text x="-1" y="12.5" font-size="13" fill="#111">05</text></svg>
<text x="533.75" y="573.5" font-size="13" fill="#111">2</text>
<text x="543.1" y="573.5" font-size="13" fill="#111">,364</text>
<text x="581.9" y="573.5" font-size="13" fill="#111">1</text>
<text x="597" y="573.5" font-size="13" fill="#111">5</text>
<svg x="610.6" y="561" width="7.5" height="17"><text x="-2" y="12.5" font-size="13" fill="#111">9</text></svg>
<text x="618.75" y="573.5" font-size="13" fill="#111">.20,390</text>
<text x="669.9" y="573.5" font-size="13" fill="#111">72</text>
<text x="690.5" y="573.5" font-size="13" fill="#111">2</text>
<svg x="700.8" y="561" width="17.9" height="17"><text x="-1.3" y="12.5" font-size="13" fill="#111">66</text></svg>
<text x="731.8" y="573.5" font-size="13" fill="#111">!</text>
<text x="736.5" y="573.5" font-size="13" fill="#111">7</text>
<text x="4" y="575.5" font-size="12.5" fill="#000" textLength="82" lengthAdjust="spacingAndGlyphs">© IT-Finance.com</text>
</g>
<rect x="738" y="368" width="1" height="211" fill="#b0b0b0"/>
<rect x="0" y="578" width="739" height="1" fill="#a8a8a8"/>
<rect x="0" y="368" width="739" height="1" fill="#a8a8a8"/>
<rect x="1" y="369" width="24" height="14" fill="url(#lbl)"/><rect x="25" y="369" width="1" height="15" fill="#a0a0a0"/><rect x="1" y="383" width="25" height="1" fill="#a0a0a0"/>
<text x="3.7" y="380" font-size="12.5" font-weight="normal" fill="#000" textLength="18.3" lengthAdjust="spacingAndGlyphs" text-anchor="start">Prix</text>
<rect x="26" y="369" width="116" height="14" fill="url(#lbl)"/><rect x="142" y="369" width="1" height="15" fill="#a0a0a0"/><rect x="26" y="383" width="117" height="1" fill="#a0a0a0"/>
<text x="28" y="380" font-size="12.5" font-weight="normal" fill="#f4a030" textLength="110.7" lengthAdjust="spacingAndGlyphs" text-anchor="start">Affichage des ordres</text>
<rect x="739" y="77" width="4" height="1" fill="#a8a8a8"/>
<text x="744.8" y="81.3" font-size="13" fill="#000" textLength="42.6" lengthAdjust="spacingAndGlyphs">25 000</text>
<rect x="739" y="124" width="4" height="1" fill="#a8a8a8"/>
<text x="744.8" y="128.3" font-size="13" fill="#000" textLength="42.6" lengthAdjust="spacingAndGlyphs">20 000</text>
<rect x="739" y="171" width="4" height="1" fill="#a8a8a8"/>
<text x="744.8" y="175.3" font-size="13" fill="#000" textLength="42.6" lengthAdjust="spacingAndGlyphs">15 000</text>
<rect x="739" y="217" width="4" height="1" fill="#a8a8a8"/>
<text x="744.8" y="221.3" font-size="13" fill="#000" textLength="42.6" lengthAdjust="spacingAndGlyphs">10 000</text>
<rect x="739" y="31" width="4" height="1" fill="#5a96fa"/>
<rect x="743.5" y="23.5" width="46" height="16" fill="#f0f0f0" stroke="#a0a0a0"/>
<text x="746" y="36" font-size="13" fill="#5a96fa" textLength="41" lengthAdjust="spacingAndGlyphs">30 020</text>
<rect x="739" y="240" width="4" height="1" fill="#a8a8a8"/>
<text x="744.8" y="244.3" font-size="13" fill="#000">1</text>
<rect x="739" y="270" width="4" height="1" fill="#a8a8a8"/>
<text x="744.8" y="274.3" font-size="13" fill="#000">0,5</text>
<rect x="739" y="329" width="4" height="1" fill="#a8a8a8"/>
<text x="744.8" y="333.3" font-size="13" fill="#000">-0,5</text>
<rect x="739" y="359" width="4" height="1" fill="#a8a8a8"/>
<text x="744.8" y="363.3" font-size="13" fill="#000">-1</text>
<rect x="739" y="300" width="4" height="1" fill="#5a96fa"/>
<rect x="743.5" y="292.5" width="11" height="15.5" fill="#f0f0f0" stroke="#a0a0a0"/>
<text x="745.5" y="306" font-size="13" fill="#5a96fa">0</text>
<rect x="739" y="409" width="4" height="1" fill="#a8a8a8"/>
<text x="744.8" y="413.3" font-size="13" fill="#000" textLength="22.4" lengthAdjust="spacingAndGlyphs">122</text>
<rect x="739" y="452" width="4" height="1" fill="#a8a8a8"/>
<text x="744.8" y="456.3" font-size="13" fill="#000" textLength="22.4" lengthAdjust="spacingAndGlyphs">121</text>
<rect x="739" y="537" width="4" height="1" fill="#a8a8a8"/>
<text x="744.8" y="541.3" font-size="13" fill="#000" textLength="22.4" lengthAdjust="spacingAndGlyphs">119</text>
<rect x="739" y="494" width="4" height="1" fill="#a8a8a8"/>
<text x="745.5" y="499" font-size="13.5" fill="#000" stroke="#000" stroke-width="0.25" textLength="26.3" lengthAdjust="spacingAndGlyphs">120</text>
<rect x="739" y="388" width="4" height="1" fill="#000"/>
<rect x="743.5" y="380.5" width="53" height="15" fill="url(#gold)" stroke="#b09030"/>
<text x="746" y="393" font-size="13" fill="#000" textLength="48" lengthAdjust="spacingAndGlyphs">122,498</text>
<rect x="39" y="579" width="1" height="4" fill="#a8a8a8"/>
<text x="38.8" y="596" font-size="13" font-weight="normal" fill="#000" text-anchor="middle" textLength="15.4" lengthAdjust="spacingAndGlyphs">14</text>
<rect x="75" y="579" width="1" height="4" fill="#a8a8a8"/>
<text x="74.8" y="596" font-size="13" font-weight="normal" fill="#000" text-anchor="middle" textLength="15.4" lengthAdjust="spacingAndGlyphs">15</text>
<rect x="112" y="579" width="1" height="4" fill="#a8a8a8"/>
<text x="111.8" y="596" font-size="13" font-weight="normal" fill="#000" text-anchor="middle" textLength="15.4" lengthAdjust="spacingAndGlyphs">16</text>
<rect x="149" y="579" width="1" height="4" fill="#a8a8a8"/>
<text x="148.8" y="596" font-size="13" font-weight="normal" fill="#000" text-anchor="middle" textLength="15.4" lengthAdjust="spacingAndGlyphs">17</text>
<rect x="182" y="579" width="1" height="4" fill="#a8a8a8"/>
<text x="181.8" y="596" font-size="13" font-weight="normal" fill="#000" text-anchor="middle" textLength="15.4" lengthAdjust="spacingAndGlyphs">19</text>
<rect x="224" y="579" width="1" height="4" fill="#a8a8a8"/>
<text x="223.8" y="596" font-size="13" font-weight="normal" fill="#000" text-anchor="middle" textLength="15.4" lengthAdjust="spacingAndGlyphs">21</text>
<rect x="260" y="579" width="1" height="4" fill="#a8a8a8"/>
<text x="259.8" y="596" font-size="13" font-weight="normal" fill="#000" text-anchor="middle" textLength="15.4" lengthAdjust="spacingAndGlyphs">22</text>
<rect x="297" y="579" width="1" height="4" fill="#a8a8a8"/>
<text x="296.8" y="596" font-size="13" font-weight="normal" fill="#000" text-anchor="middle" textLength="15.4" lengthAdjust="spacingAndGlyphs">23</text>
<rect x="334" y="579" width="1" height="4" fill="#a8a8a8"/>
<text x="333.8" y="596" font-size="13" font-weight="normal" fill="#000" text-anchor="middle" textLength="15.4" lengthAdjust="spacingAndGlyphs">24</text>
<rect x="368" y="579" width="1" height="4" fill="#a8a8a8"/>
<text x="367.8" y="596" font-size="13" font-weight="normal" fill="#000" text-anchor="middle" textLength="15.4" lengthAdjust="spacingAndGlyphs">26</text>
<rect x="409" y="579" width="1" height="4" fill="#a8a8a8"/>
<text x="408.8" y="596" font-size="13" font-weight="normal" fill="#000" text-anchor="middle" textLength="15.4" lengthAdjust="spacingAndGlyphs">28</text>
<rect x="445" y="579" width="1" height="4" fill="#a8a8a8"/>
<text x="444.8" y="596" font-size="13" font-weight="bold" fill="#000" text-anchor="middle" textLength="32.2" lengthAdjust="spacingAndGlyphs">mars</text>
<rect x="482" y="579" width="1" height="4" fill="#a8a8a8"/>
<text x="481.8" y="596" font-size="13" font-weight="normal" fill="#000" text-anchor="middle" textLength="15.4" lengthAdjust="spacingAndGlyphs">02</text>
<rect x="519" y="579" width="1" height="4" fill="#a8a8a8"/>
<text x="518.8" y="596" font-size="13" font-weight="normal" fill="#000" text-anchor="middle" textLength="15.4" lengthAdjust="spacingAndGlyphs">03</text>
<rect x="553" y="579" width="1" height="4" fill="#a8a8a8"/>
<text x="552.8" y="596" font-size="13" font-weight="normal" fill="#000" text-anchor="middle" textLength="15.4" lengthAdjust="spacingAndGlyphs">05</text>
<rect x="593" y="579" width="1" height="4" fill="#a8a8a8"/>
<text x="592.8" y="596" font-size="13" font-weight="normal" fill="#000" text-anchor="middle" textLength="15.4" lengthAdjust="spacingAndGlyphs">07</text>
<rect x="631" y="579" width="1" height="4" fill="#a8a8a8"/>
<text x="630.8" y="596" font-size="13" font-weight="normal" fill="#000" text-anchor="middle" textLength="15.4" lengthAdjust="spacingAndGlyphs">08</text>
<rect x="667" y="579" width="1" height="4" fill="#a8a8a8"/>
<text x="666.8" y="596" font-size="13" font-weight="normal" fill="#000" text-anchor="middle" textLength="15.4" lengthAdjust="spacingAndGlyphs">09</text>
<rect x="704" y="579" width="1" height="4" fill="#a8a8a8"/>
<text x="703.8" y="596" font-size="13" font-weight="normal" fill="#000" text-anchor="middle" textLength="15.4" lengthAdjust="spacingAndGlyphs">10</text>
<rect x="0.5" y="0.5" width="799" height="599" fill="none" stroke="#a8a8a8"/>
</svg></div></body></html>
